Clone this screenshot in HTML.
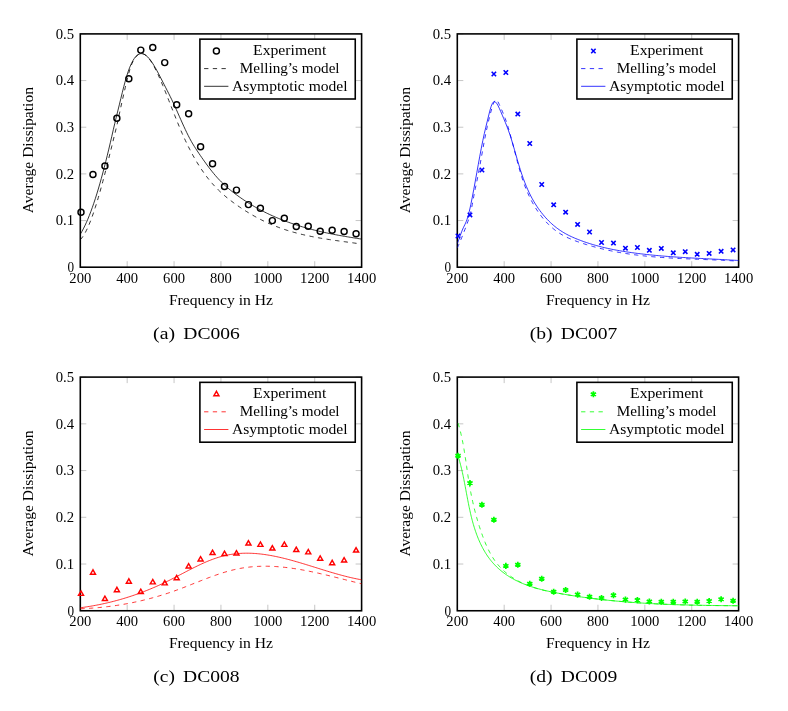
<!DOCTYPE html>
<html><head><meta charset="utf-8"><title>Average Dissipation</title>
<style>html,body{margin:0;padding:0;background:#fff}svg{display:block;will-change:transform}text{font-family:"Liberation Serif",serif;fill:#000}</style></head><body>
<svg width="788" height="711" viewBox="0 0 788 711">
<rect width="788" height="711" fill="#fff"/>
<defs>
<clipPath id="cpa"><rect x="80.30" y="33.90" width="281.30" height="233.30"/></clipPath>
<clipPath id="cpb"><rect x="457.30" y="33.90" width="281.30" height="233.30"/></clipPath>
<clipPath id="cpc"><rect x="80.30" y="377.10" width="281.30" height="233.65"/></clipPath>
<clipPath id="cpd"><rect x="457.30" y="377.10" width="281.30" height="233.65"/></clipPath>
</defs>
<g id="plot-a">
<path d="M80.30 267.20V261.20M80.30 33.90V39.90M127.18 267.20V261.20M127.18 33.90V39.90M174.07 267.20V261.20M174.07 33.90V39.90M220.95 267.20V261.20M220.95 33.90V39.90M267.83 267.20V261.20M267.83 33.90V39.90M314.72 267.20V261.20M314.72 33.90V39.90M361.60 267.20V261.20M361.60 33.90V39.90M80.30 267.20H86.30M361.60 267.20H355.60M80.30 220.54H86.30M361.60 220.54H355.60M80.30 173.88H86.30M361.60 173.88H355.60M80.30 127.22H86.30M361.60 127.22H355.60M80.30 80.56H86.30M361.60 80.56H355.60M80.30 33.90H86.30M361.60 33.90H355.60" stroke="#808080" stroke-width="0.45" fill="none"/>
<rect x="80.30" y="33.90" width="281.30" height="233.30" fill="none" stroke="#000" stroke-width="1.58"/>
<g clip-path="url(#cpa)" fill="none" stroke="#000000" stroke-width="0.80">
<path d="M80.30 239.67 C80.55 239.39 81.30 238.60 81.80 237.97 C82.30 237.34 82.80 236.64 83.30 235.89 C83.80 235.13 84.30 234.31 84.80 233.43 C85.30 232.56 85.80 231.62 86.30 230.63 C86.80 229.64 87.30 228.59 87.80 227.49 C88.30 226.39 88.80 225.23 89.30 224.03 C89.80 222.83 90.30 221.57 90.80 220.27 C91.30 218.97 91.80 217.62 92.30 216.23 C92.80 214.84 93.30 213.40 93.80 211.93 C94.30 210.45 94.80 208.93 95.30 207.38 C95.80 205.82 96.30 204.23 96.80 202.60 C97.30 200.97 97.80 199.31 98.30 197.61 C98.80 195.92 99.30 194.19 99.80 192.43 C100.30 190.67 100.80 188.88 101.30 187.07 C101.80 185.26 102.30 183.42 102.80 181.55 C103.30 179.69 103.80 177.80 104.30 175.90 C104.80 173.99 105.30 172.06 105.80 170.12 C106.30 168.18 106.80 166.21 107.30 164.24 C107.80 162.26 108.30 160.27 108.80 158.27 C109.30 156.26 109.80 154.25 110.30 152.23 C110.80 150.20 111.30 148.17 111.80 146.13 C112.30 144.10 112.80 142.05 113.30 140.01 C113.80 137.97 114.30 135.94 114.80 133.90 C115.30 131.86 115.80 129.88 116.30 127.79 C116.80 125.69 117.30 123.57 117.80 121.30 C118.30 119.04 118.80 116.54 119.30 114.19 C119.80 111.85 120.30 109.50 120.80 107.21 C121.30 104.92 121.80 102.68 122.30 100.46 C122.80 98.24 123.30 96.06 123.80 93.88 C124.30 91.71 124.80 89.56 125.30 87.42 C125.80 85.29 126.30 83.14 126.80 81.08 C127.30 79.03 127.80 76.98 128.30 75.08 C128.80 73.19 129.30 71.36 129.80 69.74 C130.30 68.11 130.80 66.64 131.30 65.32 C131.80 64.01 132.30 62.89 132.80 61.85 C133.30 60.81 133.80 59.90 134.30 59.08 C134.80 58.25 135.30 57.54 135.80 56.91 C136.30 56.28 136.80 55.76 137.30 55.31 C137.80 54.87 138.30 54.52 138.80 54.25 C139.30 53.98 139.80 53.80 140.30 53.69 C140.80 53.58 141.30 53.55 141.80 53.59 C142.30 53.62 142.80 53.74 143.30 53.91 C143.80 54.09 144.30 54.34 144.80 54.64 C145.30 54.95 145.80 55.32 146.30 55.75 C146.80 56.18 147.30 56.67 147.80 57.21 C148.30 57.75 148.80 58.35 149.30 58.99 C149.80 59.64 150.30 60.34 150.80 61.08 C151.30 61.82 151.80 62.61 152.30 63.44 C152.80 64.27 153.30 65.14 153.80 66.05 C154.30 66.96 154.80 67.91 155.30 68.89 C155.80 69.86 156.30 70.88 156.80 71.92 C157.30 72.96 157.80 74.03 158.30 75.12 C158.80 76.22 159.30 77.34 159.80 78.48 C160.30 79.61 160.80 80.78 161.30 81.95 C161.80 83.13 162.30 84.32 162.80 85.52 C163.30 86.72 163.80 87.94 164.30 89.17 C164.80 90.39 165.30 91.63 165.80 92.88 C166.30 94.12 166.80 95.37 167.30 96.63 C167.80 97.89 168.30 99.15 168.80 100.42 C169.30 101.68 169.80 102.96 170.30 104.23 C170.80 105.50 171.30 106.77 171.80 108.04 C172.30 109.31 172.80 110.58 173.30 111.84 C173.80 113.11 174.30 114.37 174.80 115.62 C175.30 116.88 175.80 118.13 176.30 119.37 C176.80 120.61 177.30 121.84 177.80 123.06 C178.30 124.28 178.80 125.50 179.30 126.69 C179.80 127.89 180.30 129.08 180.80 130.24 C181.30 131.41 181.80 132.57 182.30 133.70 C182.80 134.84 183.30 135.96 183.80 137.06 C184.30 138.16 184.80 139.24 185.30 140.31 C185.80 141.38 186.30 142.43 186.80 143.46 C187.30 144.50 187.80 145.51 188.30 146.52 C188.80 147.52 189.30 148.50 189.80 149.47 C190.30 150.44 190.80 151.39 191.30 152.33 C191.80 153.27 192.30 154.19 192.80 155.10 C193.30 156.01 193.80 156.90 194.30 157.78 C194.80 158.65 195.30 159.52 195.80 160.36 C196.30 161.21 196.80 162.05 197.30 162.86 C197.80 163.68 198.30 164.49 198.80 165.28 C199.30 166.07 199.80 166.85 200.30 167.61 C200.80 168.38 201.30 169.13 201.80 169.87 C202.30 170.60 202.80 171.33 203.30 172.04 C203.80 172.75 204.30 173.45 204.80 174.14 C205.30 174.82 205.80 175.50 206.30 176.16 C206.80 176.82 207.30 177.47 207.80 178.11 C208.30 178.75 208.80 179.37 209.30 179.99 C209.80 180.61 210.30 181.21 210.80 181.80 C211.30 182.39 211.80 182.97 212.30 183.55 C212.80 184.12 213.30 184.68 213.80 185.23 C214.30 185.78 214.80 186.31 215.30 186.84 C215.80 187.37 216.30 187.89 216.80 188.40 C217.30 188.91 217.80 189.41 218.30 189.91 C218.80 190.40 219.30 190.88 219.80 191.35 C220.30 191.83 220.80 192.30 221.30 192.75 C221.80 193.21 222.30 193.66 222.80 194.11 C223.30 194.55 223.80 194.99 224.30 195.42 C224.80 195.85 225.30 196.27 225.80 196.69 C226.30 197.10 226.80 197.52 227.30 197.92 C227.80 198.33 228.30 198.72 228.80 199.12 C229.30 199.51 229.80 199.90 230.30 200.29 C230.80 200.67 231.30 201.05 231.80 201.43 C232.30 201.80 232.80 202.18 233.30 202.54 C233.80 202.91 234.30 203.28 234.80 203.64 C235.30 204.00 235.80 204.36 236.30 204.71 C236.80 205.07 237.30 205.42 237.80 205.77 C238.30 206.12 238.80 206.46 239.30 206.80 C239.80 207.15 240.30 207.49 240.80 207.82 C241.30 208.16 241.80 208.49 242.30 208.82 C242.80 209.15 243.30 209.47 243.80 209.80 C244.30 210.12 244.80 210.44 245.30 210.76 C245.80 211.07 246.30 211.39 246.80 211.70 C247.30 212.01 247.80 212.31 248.30 212.62 C248.80 212.92 249.30 213.22 249.80 213.52 C250.30 213.82 250.80 214.11 251.30 214.40 C251.80 214.70 252.30 214.98 252.80 215.27 C253.30 215.56 253.80 215.84 254.30 216.12 C254.80 216.40 255.30 216.67 255.80 216.95 C256.30 217.22 256.80 217.49 257.30 217.76 C257.80 218.02 258.30 218.29 258.80 218.55 C259.30 218.81 259.80 219.07 260.30 219.32 C260.80 219.58 261.30 219.83 261.80 220.08 C262.30 220.33 262.80 220.58 263.30 220.82 C263.80 221.06 264.30 221.31 264.80 221.54 C265.30 221.78 265.80 222.02 266.30 222.25 C266.80 222.48 267.30 222.71 267.80 222.93 C268.30 223.16 268.80 223.38 269.30 223.60 C269.80 223.82 270.30 224.04 270.80 224.26 C271.30 224.47 271.80 224.68 272.30 224.89 C272.80 225.10 273.30 225.31 273.80 225.51 C274.30 225.71 274.80 225.91 275.30 226.11 C275.80 226.31 276.30 226.50 276.80 226.70 C277.30 226.89 277.80 227.08 278.30 227.26 C278.80 227.45 279.30 227.64 279.80 227.82 C280.30 228.00 280.80 228.18 281.30 228.36 C281.80 228.53 282.30 228.71 282.80 228.88 C283.30 229.05 283.80 229.22 284.30 229.39 C284.80 229.56 285.30 229.72 285.80 229.88 C286.30 230.05 286.80 230.21 287.30 230.37 C287.80 230.52 288.30 230.68 288.80 230.83 C289.30 230.99 289.80 231.14 290.30 231.29 C290.80 231.44 291.30 231.58 291.80 231.73 C292.30 231.87 292.80 232.02 293.30 232.16 C293.80 232.30 294.30 232.44 294.80 232.57 C295.30 232.71 295.80 232.84 296.30 232.98 C296.80 233.11 297.30 233.24 297.80 233.37 C298.30 233.50 298.80 233.63 299.30 233.75 C299.80 233.88 300.30 234.00 300.80 234.12 C301.30 234.25 301.80 234.37 302.30 234.48 C302.80 234.60 303.30 234.72 303.80 234.83 C304.30 234.95 304.80 235.06 305.30 235.18 C305.80 235.29 306.30 235.40 306.80 235.51 C307.30 235.61 307.80 235.72 308.30 235.83 C308.80 235.93 309.30 236.04 309.80 236.14 C310.30 236.24 310.80 236.35 311.30 236.45 C311.80 236.55 312.30 236.64 312.80 236.74 C313.30 236.84 313.80 236.94 314.30 237.03 C314.80 237.13 315.30 237.22 315.80 237.31 C316.30 237.40 316.80 237.50 317.30 237.59 C317.80 237.68 318.30 237.76 318.80 237.85 C319.30 237.94 319.80 238.03 320.30 238.11 C320.80 238.20 321.30 238.28 321.80 238.37 C322.30 238.45 322.80 238.54 323.30 238.62 C323.80 238.70 324.30 238.78 324.80 238.86 C325.30 238.94 325.80 239.02 326.30 239.10 C326.80 239.18 327.30 239.26 327.80 239.33 C328.30 239.41 328.80 239.49 329.30 239.56 C329.80 239.64 330.30 239.71 330.80 239.79 C331.30 239.86 331.80 239.93 332.30 240.01 C332.80 240.08 333.30 240.15 333.80 240.23 C334.30 240.30 334.80 240.37 335.30 240.44 C335.80 240.51 336.30 240.58 336.80 240.65 C337.30 240.72 337.80 240.79 338.30 240.86 C338.80 240.93 339.30 241.00 339.80 241.07 C340.30 241.14 340.80 241.21 341.30 241.28 C341.80 241.34 342.30 241.41 342.80 241.48 C343.30 241.55 343.80 241.62 344.30 241.68 C344.80 241.75 345.30 241.82 345.80 241.89 C346.30 241.96 346.80 242.02 347.30 242.09 C347.80 242.16 348.30 242.23 348.80 242.29 C349.30 242.36 349.80 242.43 350.30 242.50 C350.80 242.56 351.30 242.63 351.80 242.70 C352.30 242.77 352.80 242.84 353.30 242.90 C353.80 242.97 354.30 243.04 354.80 243.11 C355.30 243.18 355.80 243.25 356.30 243.32 C356.80 243.39 357.30 243.46 357.80 243.53 C358.30 243.60 358.80 243.67 359.30 243.74 C359.80 243.81 360.42 243.90 360.80 243.95 C361.18 244.01 361.47 244.05 361.60 244.07" stroke-dasharray="4.3 4.4"/>
<path d="M80.30 234.17 C80.55 233.75 81.30 232.53 81.80 231.65 C82.30 230.77 82.80 229.85 83.30 228.89 C83.80 227.93 84.30 226.93 84.80 225.89 C85.30 224.86 85.80 223.78 86.30 222.67 C86.80 221.56 87.30 220.41 87.80 219.23 C88.30 218.04 88.80 216.82 89.30 215.55 C89.80 214.29 90.30 213.00 90.80 211.66 C91.30 210.33 91.80 208.96 92.30 207.56 C92.80 206.15 93.30 204.71 93.80 203.23 C94.30 201.76 94.80 200.24 95.30 198.70 C95.80 197.15 96.30 195.57 96.80 193.95 C97.30 192.34 97.80 190.68 98.30 189.00 C98.80 187.32 99.30 185.60 99.80 183.85 C100.30 182.10 100.80 180.32 101.30 178.51 C101.80 176.69 102.30 174.85 102.80 172.98 C103.30 171.10 103.80 169.20 104.30 167.27 C104.80 165.34 105.30 163.38 105.80 161.39 C106.30 159.40 106.80 157.39 107.30 155.34 C107.80 153.30 108.30 151.24 108.80 149.14 C109.30 147.05 109.80 144.93 110.30 142.79 C110.80 140.65 111.30 138.47 111.80 136.30 C112.30 134.12 112.80 131.90 113.30 129.74 C113.80 127.57 114.30 125.42 114.80 123.30 C115.30 121.18 115.80 119.10 116.30 117.04 C116.80 114.98 117.30 112.97 117.80 110.94 C118.30 108.90 118.80 106.89 119.30 104.85 C119.80 102.80 120.30 100.73 120.80 98.67 C121.30 96.62 121.80 94.55 122.30 92.53 C122.80 90.51 123.30 88.50 123.80 86.56 C124.30 84.63 124.80 82.72 125.30 80.92 C125.80 79.12 126.30 77.38 126.80 75.75 C127.30 74.13 127.80 72.60 128.30 71.17 C128.80 69.74 129.30 68.41 129.80 67.17 C130.30 65.93 130.80 64.78 131.30 63.72 C131.80 62.67 132.30 61.70 132.80 60.82 C133.30 59.94 133.80 59.15 134.30 58.44 C134.80 57.73 135.30 57.10 135.80 56.55 C136.30 56.01 136.80 55.54 137.30 55.15 C137.80 54.76 138.30 54.45 138.80 54.21 C139.30 53.97 139.80 53.80 140.30 53.70 C140.80 53.60 141.30 53.58 141.80 53.62 C142.30 53.66 142.80 53.76 143.30 53.93 C143.80 54.10 144.30 54.34 144.80 54.63 C145.30 54.92 145.80 55.27 146.30 55.67 C146.80 56.08 147.30 56.54 147.80 57.05 C148.30 57.56 148.80 58.12 149.30 58.72 C149.80 59.32 150.30 59.97 150.80 60.65 C151.30 61.34 151.80 62.06 152.30 62.82 C152.80 63.58 153.30 64.37 153.80 65.19 C154.30 66.01 154.80 66.86 155.30 67.73 C155.80 68.61 156.30 69.51 156.80 70.42 C157.30 71.33 157.80 72.27 158.30 73.21 C158.80 74.16 159.30 75.12 159.80 76.09 C160.30 77.06 160.80 78.04 161.30 79.01 C161.80 79.99 162.30 80.98 162.80 81.96 C163.30 82.94 163.80 83.92 164.30 84.89 C164.80 85.87 165.30 86.84 165.80 87.81 C166.30 88.79 166.80 89.76 167.30 90.74 C167.80 91.72 168.30 92.70 168.80 93.69 C169.30 94.68 169.80 95.68 170.30 96.69 C170.80 97.70 171.30 98.72 171.80 99.76 C172.30 100.79 172.80 101.84 173.30 102.91 C173.80 103.98 174.30 105.06 174.80 106.16 C175.30 107.26 175.80 108.37 176.30 109.48 C176.80 110.60 177.30 111.73 177.80 112.86 C178.30 113.98 178.80 115.12 179.30 116.25 C179.80 117.38 180.30 118.52 180.80 119.64 C181.30 120.77 181.80 121.89 182.30 123.00 C182.80 124.11 183.30 125.22 183.80 126.31 C184.30 127.40 184.80 128.48 185.30 129.54 C185.80 130.60 186.30 131.65 186.80 132.68 C187.30 133.71 187.80 134.72 188.30 135.71 C188.80 136.70 189.30 137.67 189.80 138.61 C190.30 139.55 190.80 140.47 191.30 141.36 C191.80 142.25 192.30 143.11 192.80 143.95 C193.30 144.79 193.80 145.61 194.30 146.40 C194.80 147.20 195.30 147.97 195.80 148.74 C196.30 149.51 196.80 150.26 197.30 151.01 C197.80 151.75 198.30 152.49 198.80 153.23 C199.30 153.97 199.80 154.70 200.30 155.43 C200.80 156.16 201.30 156.89 201.80 157.61 C202.30 158.33 202.80 159.04 203.30 159.75 C203.80 160.46 204.30 161.17 204.80 161.87 C205.30 162.57 205.80 163.26 206.30 163.94 C206.80 164.63 207.30 165.31 207.80 165.98 C208.30 166.65 208.80 167.32 209.30 167.97 C209.80 168.63 210.30 169.28 210.80 169.92 C211.30 170.56 211.80 171.19 212.30 171.81 C212.80 172.43 213.30 173.05 213.80 173.65 C214.30 174.25 214.80 174.85 215.30 175.43 C215.80 176.01 216.30 176.59 216.80 177.15 C217.30 177.71 217.80 178.26 218.30 178.80 C218.80 179.34 219.30 179.87 219.80 180.39 C220.30 180.91 220.80 181.42 221.30 181.92 C221.80 182.42 222.30 182.91 222.80 183.40 C223.30 183.88 223.80 184.35 224.30 184.82 C224.80 185.28 225.30 185.74 225.80 186.19 C226.30 186.64 226.80 187.08 227.30 187.51 C227.80 187.95 228.30 188.37 228.80 188.80 C229.30 189.22 229.80 189.63 230.30 190.04 C230.80 190.45 231.30 190.85 231.80 191.25 C232.30 191.64 232.80 192.03 233.30 192.42 C233.80 192.81 234.30 193.19 234.80 193.57 C235.30 193.95 235.80 194.32 236.30 194.69 C236.80 195.06 237.30 195.42 237.80 195.79 C238.30 196.15 238.80 196.51 239.30 196.86 C239.80 197.22 240.30 197.57 240.80 197.92 C241.30 198.27 241.80 198.61 242.30 198.95 C242.80 199.29 243.30 199.63 243.80 199.96 C244.30 200.30 244.80 200.63 245.30 200.96 C245.80 201.28 246.30 201.61 246.80 201.93 C247.30 202.25 247.80 202.57 248.30 202.88 C248.80 203.20 249.30 203.51 249.80 203.81 C250.30 204.12 250.80 204.43 251.30 204.73 C251.80 205.03 252.30 205.33 252.80 205.62 C253.30 205.92 253.80 206.21 254.30 206.50 C254.80 206.79 255.30 207.08 255.80 207.36 C256.30 207.64 256.80 207.92 257.30 208.20 C257.80 208.48 258.30 208.75 258.80 209.02 C259.30 209.30 259.80 209.57 260.30 209.83 C260.80 210.10 261.30 210.36 261.80 210.62 C262.30 210.88 262.80 211.14 263.30 211.40 C263.80 211.65 264.30 211.90 264.80 212.16 C265.30 212.41 265.80 212.65 266.30 212.90 C266.80 213.14 267.30 213.39 267.80 213.63 C268.30 213.87 268.80 214.10 269.30 214.34 C269.80 214.57 270.30 214.81 270.80 215.04 C271.30 215.27 271.80 215.50 272.30 215.72 C272.80 215.95 273.30 216.17 273.80 216.39 C274.30 216.61 274.80 216.83 275.30 217.05 C275.80 217.27 276.30 217.48 276.80 217.69 C277.30 217.91 277.80 218.12 278.30 218.32 C278.80 218.53 279.30 218.74 279.80 218.94 C280.30 219.15 280.80 219.35 281.30 219.55 C281.80 219.75 282.30 219.95 282.80 220.14 C283.30 220.34 283.80 220.53 284.30 220.72 C284.80 220.91 285.30 221.10 285.80 221.29 C286.30 221.48 286.80 221.66 287.30 221.85 C287.80 222.03 288.30 222.21 288.80 222.39 C289.30 222.57 289.80 222.75 290.30 222.92 C290.80 223.10 291.30 223.27 291.80 223.45 C292.30 223.62 292.80 223.79 293.30 223.96 C293.80 224.13 294.30 224.29 294.80 224.46 C295.30 224.62 295.80 224.79 296.30 224.95 C296.80 225.11 297.30 225.27 297.80 225.43 C298.30 225.59 298.80 225.74 299.30 225.90 C299.80 226.05 300.30 226.21 300.80 226.36 C301.30 226.51 301.80 226.66 302.30 226.81 C302.80 226.96 303.30 227.10 303.80 227.25 C304.30 227.39 304.80 227.54 305.30 227.68 C305.80 227.82 306.30 227.96 306.80 228.10 C307.30 228.24 307.80 228.38 308.30 228.51 C308.80 228.65 309.30 228.78 309.80 228.92 C310.30 229.05 310.80 229.18 311.30 229.31 C311.80 229.44 312.30 229.57 312.80 229.70 C313.30 229.83 313.80 229.95 314.30 230.08 C314.80 230.20 315.30 230.33 315.80 230.45 C316.30 230.57 316.80 230.69 317.30 230.81 C317.80 230.93 318.30 231.05 318.80 231.17 C319.30 231.29 319.80 231.40 320.30 231.52 C320.80 231.63 321.30 231.75 321.80 231.86 C322.30 231.97 322.80 232.09 323.30 232.20 C323.80 232.31 324.30 232.42 324.80 232.52 C325.30 232.63 325.80 232.74 326.30 232.85 C326.80 232.95 327.30 233.06 327.80 233.16 C328.30 233.27 328.80 233.37 329.30 233.47 C329.80 233.58 330.30 233.68 330.80 233.78 C331.30 233.88 331.80 233.98 332.30 234.08 C332.80 234.18 333.30 234.27 333.80 234.37 C334.30 234.47 334.80 234.56 335.30 234.66 C335.80 234.75 336.30 234.85 336.80 234.94 C337.30 235.04 337.80 235.13 338.30 235.22 C338.80 235.31 339.30 235.40 339.80 235.49 C340.30 235.59 340.80 235.68 341.30 235.76 C341.80 235.85 342.30 235.94 342.80 236.03 C343.30 236.12 343.80 236.21 344.30 236.29 C344.80 236.38 345.30 236.46 345.80 236.55 C346.30 236.64 346.80 236.72 347.30 236.81 C347.80 236.89 348.30 236.97 348.80 237.06 C349.30 237.14 349.80 237.22 350.30 237.31 C350.80 237.39 351.30 237.47 351.80 237.55 C352.30 237.63 352.80 237.71 353.30 237.79 C353.80 237.87 354.30 237.96 354.80 238.04 C355.30 238.11 355.80 238.19 356.30 238.27 C356.80 238.35 357.30 238.43 357.80 238.51 C358.30 238.59 358.80 238.67 359.30 238.74 C359.80 238.82 360.42 238.92 360.80 238.98 C361.18 239.04 361.47 239.08 361.60 239.10"/>
</g>
<circle cx="81.00" cy="212.20" r="3.0" fill="none" stroke="#000000" stroke-width="1.45"/>
<circle cx="92.96" cy="174.40" r="3.0" fill="none" stroke="#000000" stroke-width="1.45"/>
<circle cx="104.92" cy="166.00" r="3.0" fill="none" stroke="#000000" stroke-width="1.45"/>
<circle cx="116.88" cy="118.30" r="3.0" fill="none" stroke="#000000" stroke-width="1.45"/>
<circle cx="128.84" cy="78.80" r="3.0" fill="none" stroke="#000000" stroke-width="1.45"/>
<circle cx="140.80" cy="50.10" r="3.0" fill="none" stroke="#000000" stroke-width="1.45"/>
<circle cx="152.76" cy="47.40" r="3.0" fill="none" stroke="#000000" stroke-width="1.45"/>
<circle cx="164.72" cy="62.60" r="3.0" fill="none" stroke="#000000" stroke-width="1.45"/>
<circle cx="176.68" cy="104.70" r="3.0" fill="none" stroke="#000000" stroke-width="1.45"/>
<circle cx="188.64" cy="113.70" r="3.0" fill="none" stroke="#000000" stroke-width="1.45"/>
<circle cx="200.60" cy="146.80" r="3.0" fill="none" stroke="#000000" stroke-width="1.45"/>
<circle cx="212.56" cy="163.70" r="3.0" fill="none" stroke="#000000" stroke-width="1.45"/>
<circle cx="224.52" cy="186.50" r="3.0" fill="none" stroke="#000000" stroke-width="1.45"/>
<circle cx="236.48" cy="190.10" r="3.0" fill="none" stroke="#000000" stroke-width="1.45"/>
<circle cx="248.44" cy="204.60" r="3.0" fill="none" stroke="#000000" stroke-width="1.45"/>
<circle cx="260.40" cy="208.30" r="3.0" fill="none" stroke="#000000" stroke-width="1.45"/>
<circle cx="272.36" cy="220.60" r="3.0" fill="none" stroke="#000000" stroke-width="1.45"/>
<circle cx="284.32" cy="218.30" r="3.0" fill="none" stroke="#000000" stroke-width="1.45"/>
<circle cx="296.28" cy="226.50" r="3.0" fill="none" stroke="#000000" stroke-width="1.45"/>
<circle cx="308.24" cy="226.30" r="3.0" fill="none" stroke="#000000" stroke-width="1.45"/>
<circle cx="320.20" cy="231.30" r="3.0" fill="none" stroke="#000000" stroke-width="1.45"/>
<circle cx="332.16" cy="230.30" r="3.0" fill="none" stroke="#000000" stroke-width="1.45"/>
<circle cx="344.12" cy="231.50" r="3.0" fill="none" stroke="#000000" stroke-width="1.45"/>
<circle cx="356.08" cy="233.80" r="3.0" fill="none" stroke="#000000" stroke-width="1.45"/>
<text x="80.30" y="282.70" font-size="14.40" text-anchor="middle" textLength="21.90" lengthAdjust="spacingAndGlyphs">200</text>
<text x="127.18" y="282.70" font-size="14.40" text-anchor="middle" textLength="21.90" lengthAdjust="spacingAndGlyphs">400</text>
<text x="174.07" y="282.70" font-size="14.40" text-anchor="middle" textLength="21.90" lengthAdjust="spacingAndGlyphs">600</text>
<text x="220.95" y="282.70" font-size="14.40" text-anchor="middle" textLength="21.90" lengthAdjust="spacingAndGlyphs">800</text>
<text x="267.83" y="282.70" font-size="14.40" text-anchor="middle" textLength="29.20" lengthAdjust="spacingAndGlyphs">1000</text>
<text x="314.72" y="282.70" font-size="14.40" text-anchor="middle" textLength="29.20" lengthAdjust="spacingAndGlyphs">1200</text>
<text x="361.60" y="282.70" font-size="14.40" text-anchor="middle" textLength="29.20" lengthAdjust="spacingAndGlyphs">1400</text>
<text x="74.10" y="272.00" font-size="14.40" text-anchor="end" textLength="6.60" lengthAdjust="spacingAndGlyphs">0</text>
<text x="74.10" y="225.34" font-size="14.40" text-anchor="end" textLength="18.40" lengthAdjust="spacingAndGlyphs">0.1</text>
<text x="74.10" y="178.68" font-size="14.40" text-anchor="end" textLength="18.40" lengthAdjust="spacingAndGlyphs">0.2</text>
<text x="74.10" y="132.02" font-size="14.40" text-anchor="end" textLength="18.40" lengthAdjust="spacingAndGlyphs">0.3</text>
<text x="74.10" y="85.36" font-size="14.40" text-anchor="end" textLength="18.40" lengthAdjust="spacingAndGlyphs">0.4</text>
<text x="74.10" y="38.70" font-size="14.40" text-anchor="end" textLength="18.40" lengthAdjust="spacingAndGlyphs">0.5</text>
<text x="220.95" y="304.90" font-size="13.90" text-anchor="middle" textLength="104.00" lengthAdjust="spacingAndGlyphs">Frequency in Hz</text>
<text transform="translate(33.10 150.15) rotate(-90)" font-size="13.90" text-anchor="middle" textLength="126.2" lengthAdjust="spacingAndGlyphs">Average Dissipation</text>
<text x="153.10" y="338.80" font-size="17.40" text-anchor="start" textLength="22.00" lengthAdjust="spacingAndGlyphs">(a)</text>
<text x="183.30" y="338.80" font-size="17.40" text-anchor="start" textLength="56.60" lengthAdjust="spacingAndGlyphs">DC006</text>
<rect x="199.90" y="39.15" width="155.35" height="59.85" fill="#fff" stroke="#000" stroke-width="1.58"/>
<circle cx="216.40" cy="51.00" r="3.0" fill="none" stroke="#000000" stroke-width="1.45"/>
<path d="M204.10 68.60H228.40" stroke="#000000" stroke-width="0.80" stroke-dasharray="4.3 4.4" fill="none"/>
<path d="M204.10 86.30H228.40" stroke="#000000" stroke-width="0.80" fill="none"/>
<text x="289.70" y="55.10" font-size="13.90" text-anchor="middle" textLength="73.30" lengthAdjust="spacingAndGlyphs">Experiment</text>
<text x="289.70" y="73.20" font-size="13.90" text-anchor="middle" textLength="99.80" lengthAdjust="spacingAndGlyphs">Melling’s model</text>
<text x="289.80" y="90.70" font-size="13.90" text-anchor="middle" textLength="115.60" lengthAdjust="spacingAndGlyphs">Asymptotic model</text>
</g>
<g id="plot-b">
<path d="M457.30 267.20V261.20M457.30 33.90V39.90M504.18 267.20V261.20M504.18 33.90V39.90M551.07 267.20V261.20M551.07 33.90V39.90M597.95 267.20V261.20M597.95 33.90V39.90M644.83 267.20V261.20M644.83 33.90V39.90M691.72 267.20V261.20M691.72 33.90V39.90M738.60 267.20V261.20M738.60 33.90V39.90M457.30 267.20H463.30M738.60 267.20H732.60M457.30 220.54H463.30M738.60 220.54H732.60M457.30 173.88H463.30M738.60 173.88H732.60M457.30 127.22H463.30M738.60 127.22H732.60M457.30 80.56H463.30M738.60 80.56H732.60M457.30 33.90H463.30M738.60 33.90H732.60" stroke="#808080" stroke-width="0.45" fill="none"/>
<rect x="457.30" y="33.90" width="281.30" height="233.30" fill="none" stroke="#000" stroke-width="1.58"/>
<g clip-path="url(#cpb)" fill="none" stroke="#0000ff" stroke-width="0.80">
<path d="M457.30 247.85 C457.55 247.29 458.30 245.63 458.80 244.49 C459.30 243.35 459.80 242.18 460.30 241.00 C460.80 239.81 461.30 238.60 461.80 237.38 C462.30 236.15 462.80 234.90 463.30 233.64 C463.80 232.37 464.30 231.08 464.80 229.78 C465.30 228.48 465.80 227.16 466.30 225.82 C466.80 224.48 467.30 223.17 467.80 221.75 C468.30 220.32 468.80 218.94 469.30 217.26 C469.80 215.59 470.30 213.84 470.80 211.69 C471.30 209.54 471.80 206.96 472.30 204.37 C472.80 201.78 473.30 198.78 473.80 196.16 C474.30 193.54 474.80 191.10 475.30 188.66 C475.80 186.21 476.30 183.92 476.80 181.47 C477.30 179.02 477.80 176.55 478.30 173.97 C478.80 171.38 479.30 168.69 479.80 165.98 C480.30 163.26 480.80 160.46 481.30 157.69 C481.80 154.91 482.30 152.09 482.80 149.35 C483.30 146.60 483.80 143.86 484.30 141.22 C484.80 138.59 485.30 136.02 485.80 133.56 C486.30 131.11 486.80 128.74 487.30 126.47 C487.80 124.20 488.30 122.03 488.80 119.94 C489.30 117.86 489.80 115.86 490.30 113.96 C490.80 112.06 491.30 110.20 491.80 108.52 C492.30 106.85 492.80 105.20 493.30 103.91 C493.80 102.62 494.30 101.46 494.80 100.78 C495.30 100.10 495.80 99.70 496.30 99.82 C496.80 99.93 497.30 100.68 497.80 101.47 C498.30 102.26 498.80 103.50 499.30 104.56 C499.80 105.62 500.30 106.72 500.80 107.83 C501.30 108.93 501.80 110.05 502.30 111.22 C502.80 112.38 503.30 113.57 503.80 114.82 C504.30 116.07 504.80 117.36 505.30 118.72 C505.80 120.09 506.30 121.51 506.80 123.01 C507.30 124.52 507.80 126.11 508.30 127.76 C508.80 129.42 509.30 131.16 509.80 132.93 C510.30 134.71 510.80 136.55 511.30 138.41 C511.80 140.27 512.30 142.19 512.80 144.10 C513.30 146.02 513.80 147.96 514.30 149.89 C514.80 151.82 515.30 153.77 515.80 155.68 C516.30 157.60 516.80 159.50 517.30 161.37 C517.80 163.23 518.30 165.07 518.80 166.86 C519.30 168.65 519.80 170.41 520.30 172.11 C520.80 173.81 521.30 175.47 521.80 177.06 C522.30 178.65 522.80 180.19 523.30 181.65 C523.80 183.11 524.30 184.50 524.80 185.83 C525.30 187.16 525.80 188.41 526.30 189.62 C526.80 190.84 527.30 191.99 527.80 193.12 C528.30 194.24 528.80 195.33 529.30 196.38 C529.80 197.43 530.30 198.45 530.80 199.44 C531.30 200.42 531.80 201.37 532.30 202.30 C532.80 203.22 533.30 204.12 533.80 204.98 C534.30 205.85 534.80 206.69 535.30 207.50 C535.80 208.32 536.30 209.10 536.80 209.87 C537.30 210.64 537.80 211.38 538.30 212.10 C538.80 212.82 539.30 213.52 539.80 214.20 C540.30 214.88 540.80 215.55 541.30 216.19 C541.80 216.84 542.30 217.47 542.80 218.08 C543.30 218.70 543.80 219.29 544.30 219.87 C544.80 220.45 545.30 221.02 545.80 221.57 C546.30 222.12 546.80 222.65 547.30 223.17 C547.80 223.69 548.30 224.19 548.80 224.68 C549.30 225.17 549.80 225.65 550.30 226.11 C550.80 226.57 551.30 227.02 551.80 227.46 C552.30 227.89 552.80 228.32 553.30 228.73 C553.80 229.14 554.30 229.54 554.80 229.92 C555.30 230.31 555.80 230.68 556.30 231.05 C556.80 231.41 557.30 231.77 557.80 232.11 C558.30 232.45 558.80 232.78 559.30 233.11 C559.80 233.43 560.30 233.74 560.80 234.05 C561.30 234.35 561.80 234.64 562.30 234.93 C562.80 235.22 563.30 235.49 563.80 235.76 C564.30 236.03 564.80 236.29 565.30 236.55 C565.80 236.80 566.30 237.05 566.80 237.29 C567.30 237.53 567.80 237.76 568.30 237.99 C568.80 238.22 569.30 238.44 569.80 238.65 C570.30 238.87 570.80 239.08 571.30 239.29 C571.80 239.49 572.30 239.69 572.80 239.89 C573.30 240.09 573.80 240.28 574.30 240.47 C574.80 240.66 575.30 240.84 575.80 241.02 C576.30 241.20 576.80 241.38 577.30 241.56 C577.80 241.74 578.30 241.91 578.80 242.08 C579.30 242.26 579.80 242.43 580.30 242.60 C580.80 242.77 581.30 242.93 581.80 243.10 C582.30 243.26 582.80 243.43 583.30 243.59 C583.80 243.75 584.30 243.91 584.80 244.07 C585.30 244.23 585.80 244.38 586.30 244.54 C586.80 244.69 587.30 244.84 587.80 244.99 C588.30 245.15 588.80 245.30 589.30 245.44 C589.80 245.59 590.30 245.74 590.80 245.88 C591.30 246.02 591.80 246.17 592.30 246.31 C592.80 246.45 593.30 246.59 593.80 246.73 C594.30 246.86 594.80 247.00 595.30 247.13 C595.80 247.27 596.30 247.40 596.80 247.53 C597.30 247.66 597.80 247.79 598.30 247.92 C598.80 248.05 599.30 248.18 599.80 248.30 C600.30 248.43 600.80 248.55 601.30 248.67 C601.80 248.79 602.30 248.91 602.80 249.03 C603.30 249.15 603.80 249.27 604.30 249.38 C604.80 249.50 605.30 249.61 605.80 249.73 C606.30 249.84 606.80 249.95 607.30 250.06 C607.80 250.17 608.30 250.28 608.80 250.39 C609.30 250.49 609.80 250.60 610.30 250.70 C610.80 250.81 611.30 250.91 611.80 251.01 C612.30 251.11 612.80 251.21 613.30 251.31 C613.80 251.41 614.30 251.51 614.80 251.61 C615.30 251.70 615.80 251.80 616.30 251.89 C616.80 251.98 617.30 252.08 617.80 252.17 C618.30 252.26 618.80 252.35 619.30 252.44 C619.80 252.53 620.30 252.61 620.80 252.70 C621.30 252.78 621.80 252.87 622.30 252.95 C622.80 253.04 623.30 253.12 623.80 253.20 C624.30 253.28 624.80 253.36 625.30 253.44 C625.80 253.52 626.30 253.60 626.80 253.67 C627.30 253.75 627.80 253.83 628.30 253.90 C628.80 253.97 629.30 254.05 629.80 254.12 C630.30 254.19 630.80 254.26 631.30 254.33 C631.80 254.40 632.30 254.47 632.80 254.54 C633.30 254.61 633.80 254.67 634.30 254.74 C634.80 254.81 635.30 254.87 635.80 254.93 C636.30 255.00 636.80 255.06 637.30 255.12 C637.80 255.18 638.30 255.24 638.80 255.30 C639.30 255.36 639.80 255.42 640.30 255.48 C640.80 255.54 641.30 255.60 641.80 255.65 C642.30 255.71 642.80 255.76 643.30 255.82 C643.80 255.87 644.30 255.92 644.80 255.98 C645.30 256.03 645.80 256.08 646.30 256.13 C646.80 256.18 647.30 256.23 647.80 256.28 C648.30 256.33 648.80 256.38 649.30 256.43 C649.80 256.47 650.30 256.52 650.80 256.57 C651.30 256.61 651.80 256.66 652.30 256.70 C652.80 256.75 653.30 256.79 653.80 256.83 C654.30 256.87 654.80 256.92 655.30 256.96 C655.80 257.00 656.30 257.04 656.80 257.08 C657.30 257.12 657.80 257.16 658.30 257.20 C658.80 257.24 659.30 257.28 659.80 257.31 C660.30 257.35 660.80 257.39 661.30 257.42 C661.80 257.46 662.30 257.49 662.80 257.53 C663.30 257.56 663.80 257.60 664.30 257.63 C664.80 257.67 665.30 257.70 665.80 257.73 C666.30 257.76 666.80 257.80 667.30 257.83 C667.80 257.86 668.30 257.89 668.80 257.92 C669.30 257.95 669.80 257.98 670.30 258.01 C670.80 258.04 671.30 258.07 671.80 258.10 C672.30 258.13 672.80 258.15 673.30 258.18 C673.80 258.21 674.30 258.24 674.80 258.26 C675.30 258.29 675.80 258.32 676.30 258.34 C676.80 258.37 677.30 258.39 677.80 258.42 C678.30 258.45 678.80 258.47 679.30 258.49 C679.80 258.52 680.30 258.54 680.80 258.57 C681.30 258.59 681.80 258.61 682.30 258.64 C682.80 258.66 683.30 258.68 683.80 258.71 C684.30 258.73 684.80 258.75 685.30 258.77 C685.80 258.80 686.30 258.82 686.80 258.84 C687.30 258.86 687.80 258.88 688.30 258.90 C688.80 258.92 689.30 258.95 689.80 258.97 C690.30 258.99 690.80 259.01 691.30 259.03 C691.80 259.05 692.30 259.07 692.80 259.09 C693.30 259.11 693.80 259.13 694.30 259.15 C694.80 259.17 695.30 259.19 695.80 259.21 C696.30 259.23 696.80 259.25 697.30 259.27 C697.80 259.29 698.30 259.30 698.80 259.32 C699.30 259.34 699.80 259.36 700.30 259.38 C700.80 259.40 701.30 259.42 701.80 259.44 C702.30 259.46 702.80 259.48 703.30 259.50 C703.80 259.52 704.30 259.53 704.80 259.55 C705.30 259.57 705.80 259.59 706.30 259.61 C706.80 259.63 707.30 259.65 707.80 259.67 C708.30 259.69 708.80 259.71 709.30 259.73 C709.80 259.75 710.30 259.77 710.80 259.79 C711.30 259.81 711.80 259.83 712.30 259.85 C712.80 259.87 713.30 259.89 713.80 259.91 C714.30 259.93 714.80 259.95 715.30 259.97 C715.80 259.99 716.30 260.01 716.80 260.03 C717.30 260.05 717.80 260.08 718.30 260.10 C718.80 260.12 719.30 260.14 719.80 260.16 C720.30 260.19 720.80 260.21 721.30 260.23 C721.80 260.25 722.30 260.28 722.80 260.30 C723.30 260.32 723.80 260.35 724.30 260.37 C724.80 260.40 725.30 260.42 725.80 260.44 C726.30 260.47 726.80 260.49 727.30 260.52 C727.80 260.55 728.30 260.57 728.80 260.60 C729.30 260.62 729.80 260.65 730.30 260.68 C730.80 260.70 731.30 260.73 731.80 260.76 C732.30 260.79 732.80 260.82 733.30 260.84 C733.80 260.87 734.30 260.90 734.80 260.93 C735.30 260.96 735.80 260.99 736.30 261.02 C736.80 261.05 737.42 261.09 737.80 261.12 C738.18 261.14 738.47 261.16 738.60 261.17" stroke-dasharray="4.3 4.4"/>
<path d="M457.30 243.51 C457.55 242.89 458.30 241.12 458.80 239.78 C459.30 238.44 459.80 236.88 460.30 235.47 C460.80 234.05 461.30 232.56 461.80 231.28 C462.30 230.00 462.80 228.90 463.30 227.80 C463.80 226.71 464.30 225.80 464.80 224.73 C465.30 223.65 465.80 222.64 466.30 221.35 C466.80 220.06 467.30 218.65 467.80 216.97 C468.30 215.30 468.80 213.37 469.30 211.31 C469.80 209.25 470.30 206.97 470.80 204.62 C471.30 202.26 471.80 199.73 472.30 197.17 C472.80 194.61 473.30 191.93 473.80 189.25 C474.30 186.56 474.80 183.80 475.30 181.05 C475.80 178.29 476.30 175.49 476.80 172.71 C477.30 169.93 477.80 167.13 478.30 164.37 C478.80 161.61 479.30 158.85 479.80 156.15 C480.30 153.46 480.80 150.79 481.30 148.20 C481.80 145.62 482.30 143.08 482.80 140.65 C483.30 138.22 483.80 135.87 484.30 133.63 C484.80 131.39 485.30 129.29 485.80 127.20 C486.30 125.11 486.80 123.12 487.30 121.08 C487.80 119.04 488.30 116.95 488.80 114.96 C489.30 112.97 489.80 110.86 490.30 109.13 C490.80 107.40 491.30 105.75 491.80 104.59 C492.30 103.43 492.80 102.63 493.30 102.16 C493.80 101.68 494.30 101.60 494.80 101.72 C495.30 101.83 495.80 102.28 496.30 102.86 C496.80 103.44 497.30 104.28 497.80 105.18 C498.30 106.09 498.80 107.18 499.30 108.27 C499.80 109.37 500.30 110.57 500.80 111.73 C501.30 112.88 501.80 114.05 502.30 115.21 C502.80 116.38 503.30 117.53 503.80 118.72 C504.30 119.90 504.80 121.09 505.30 122.32 C505.80 123.54 506.30 124.78 506.80 126.08 C507.30 127.37 507.80 128.69 508.30 130.07 C508.80 131.45 509.30 132.87 509.80 134.36 C510.30 135.86 510.80 137.42 511.30 139.02 C511.80 140.63 512.30 142.31 512.80 144.00 C513.30 145.69 513.80 147.44 514.30 149.18 C514.80 150.92 515.30 152.70 515.80 154.46 C516.30 156.21 516.80 157.98 517.30 159.71 C517.80 161.44 518.30 163.17 518.80 164.84 C519.30 166.50 519.80 168.14 520.30 169.71 C520.80 171.29 521.30 172.81 521.80 174.28 C522.30 175.75 522.80 177.17 523.30 178.55 C523.80 179.93 524.30 181.25 524.80 182.54 C525.30 183.82 525.80 185.06 526.30 186.26 C526.80 187.46 527.30 188.61 527.80 189.73 C528.30 190.85 528.80 191.92 529.30 192.96 C529.80 194.01 530.30 195.01 530.80 195.99 C531.30 196.96 531.80 197.90 532.30 198.81 C532.80 199.72 533.30 200.59 533.80 201.44 C534.30 202.30 534.80 203.12 535.30 203.92 C535.80 204.71 536.30 205.49 536.80 206.24 C537.30 206.99 537.80 207.71 538.30 208.42 C538.80 209.13 539.30 209.82 539.80 210.49 C540.30 211.17 540.80 211.82 541.30 212.46 C541.80 213.10 542.30 213.73 542.80 214.34 C543.30 214.95 543.80 215.55 544.30 216.13 C544.80 216.71 545.30 217.28 545.80 217.83 C546.30 218.39 546.80 218.92 547.30 219.45 C547.80 219.98 548.30 220.49 548.80 220.99 C549.30 221.49 549.80 221.98 550.30 222.45 C550.80 222.93 551.30 223.39 551.80 223.84 C552.30 224.29 552.80 224.73 553.30 225.16 C553.80 225.59 554.30 226.01 554.80 226.41 C555.30 226.82 555.80 227.22 556.30 227.60 C556.80 227.99 557.30 228.36 557.80 228.73 C558.30 229.09 558.80 229.45 559.30 229.79 C559.80 230.14 560.30 230.48 560.80 230.81 C561.30 231.14 561.80 231.45 562.30 231.77 C562.80 232.08 563.30 232.38 563.80 232.68 C564.30 232.97 564.80 233.26 565.30 233.54 C565.80 233.82 566.30 234.10 566.80 234.37 C567.30 234.63 567.80 234.89 568.30 235.15 C568.80 235.40 569.30 235.65 569.80 235.89 C570.30 236.14 570.80 236.37 571.30 236.60 C571.80 236.84 572.30 237.06 572.80 237.29 C573.30 237.51 573.80 237.73 574.30 237.94 C574.80 238.15 575.30 238.36 575.80 238.57 C576.30 238.77 576.80 238.98 577.30 239.18 C577.80 239.38 578.30 239.57 578.80 239.77 C579.30 239.96 579.80 240.15 580.30 240.34 C580.80 240.53 581.30 240.71 581.80 240.90 C582.30 241.08 582.80 241.26 583.30 241.44 C583.80 241.62 584.30 241.79 584.80 241.97 C585.30 242.14 585.80 242.31 586.30 242.48 C586.80 242.65 587.30 242.81 587.80 242.98 C588.30 243.14 588.80 243.30 589.30 243.46 C589.80 243.62 590.30 243.78 590.80 243.93 C591.30 244.09 591.80 244.24 592.30 244.39 C592.80 244.54 593.30 244.69 593.80 244.83 C594.30 244.98 594.80 245.12 595.30 245.26 C595.80 245.41 596.30 245.54 596.80 245.68 C597.30 245.82 597.80 245.96 598.30 246.09 C598.80 246.22 599.30 246.35 599.80 246.48 C600.30 246.61 600.80 246.74 601.30 246.87 C601.80 246.99 602.30 247.12 602.80 247.24 C603.30 247.36 603.80 247.48 604.30 247.60 C604.80 247.72 605.30 247.83 605.80 247.95 C606.30 248.06 606.80 248.18 607.30 248.29 C607.80 248.40 608.30 248.51 608.80 248.62 C609.30 248.73 609.80 248.83 610.30 248.94 C610.80 249.04 611.30 249.15 611.80 249.25 C612.30 249.35 612.80 249.45 613.30 249.55 C613.80 249.65 614.30 249.75 614.80 249.84 C615.30 249.94 615.80 250.04 616.30 250.13 C616.80 250.22 617.30 250.31 617.80 250.40 C618.30 250.50 618.80 250.58 619.30 250.67 C619.80 250.76 620.30 250.85 620.80 250.93 C621.30 251.02 621.80 251.10 622.30 251.19 C622.80 251.27 623.30 251.35 623.80 251.43 C624.30 251.51 624.80 251.59 625.30 251.67 C625.80 251.75 626.30 251.83 626.80 251.91 C627.30 251.98 627.80 252.06 628.30 252.13 C628.80 252.21 629.30 252.28 629.80 252.35 C630.30 252.43 630.80 252.50 631.30 252.57 C631.80 252.64 632.30 252.71 632.80 252.78 C633.30 252.85 633.80 252.92 634.30 252.99 C634.80 253.06 635.30 253.12 635.80 253.19 C636.30 253.25 636.80 253.32 637.30 253.38 C637.80 253.45 638.30 253.51 638.80 253.57 C639.30 253.64 639.80 253.70 640.30 253.76 C640.80 253.82 641.30 253.88 641.80 253.94 C642.30 254.00 642.80 254.06 643.30 254.12 C643.80 254.18 644.30 254.23 644.80 254.29 C645.30 254.35 645.80 254.40 646.30 254.46 C646.80 254.51 647.30 254.57 647.80 254.62 C648.30 254.67 648.80 254.73 649.30 254.78 C649.80 254.83 650.30 254.88 650.80 254.94 C651.30 254.99 651.80 255.04 652.30 255.09 C652.80 255.14 653.30 255.19 653.80 255.23 C654.30 255.28 654.80 255.33 655.30 255.38 C655.80 255.42 656.30 255.47 656.80 255.52 C657.30 255.56 657.80 255.61 658.30 255.65 C658.80 255.70 659.30 255.74 659.80 255.79 C660.30 255.83 660.80 255.87 661.30 255.92 C661.80 255.96 662.30 256.00 662.80 256.04 C663.30 256.08 663.80 256.12 664.30 256.17 C664.80 256.21 665.30 256.25 665.80 256.29 C666.30 256.33 666.80 256.36 667.30 256.40 C667.80 256.44 668.30 256.48 668.80 256.52 C669.30 256.55 669.80 256.59 670.30 256.63 C670.80 256.67 671.30 256.70 671.80 256.74 C672.30 256.77 672.80 256.81 673.30 256.84 C673.80 256.88 674.30 256.91 674.80 256.95 C675.30 256.98 675.80 257.02 676.30 257.05 C676.80 257.08 677.30 257.12 677.80 257.15 C678.30 257.18 678.80 257.21 679.30 257.25 C679.80 257.28 680.30 257.31 680.80 257.34 C681.30 257.37 681.80 257.40 682.30 257.43 C682.80 257.46 683.30 257.49 683.80 257.52 C684.30 257.55 684.80 257.58 685.30 257.61 C685.80 257.64 686.30 257.67 686.80 257.70 C687.30 257.73 687.80 257.76 688.30 257.79 C688.80 257.82 689.30 257.85 689.80 257.87 C690.30 257.90 690.80 257.93 691.30 257.96 C691.80 257.98 692.30 258.01 692.80 258.04 C693.30 258.07 693.80 258.09 694.30 258.12 C694.80 258.15 695.30 258.17 695.80 258.20 C696.30 258.23 696.80 258.25 697.30 258.28 C697.80 258.31 698.30 258.33 698.80 258.36 C699.30 258.38 699.80 258.41 700.30 258.44 C700.80 258.46 701.30 258.49 701.80 258.51 C702.30 258.54 702.80 258.57 703.30 258.59 C703.80 258.62 704.30 258.64 704.80 258.67 C705.30 258.69 705.80 258.72 706.30 258.74 C706.80 258.77 707.30 258.79 707.80 258.82 C708.30 258.84 708.80 258.87 709.30 258.89 C709.80 258.92 710.30 258.94 710.80 258.97 C711.30 258.99 711.80 259.02 712.30 259.05 C712.80 259.07 713.30 259.10 713.80 259.12 C714.30 259.15 714.80 259.17 715.30 259.20 C715.80 259.22 716.30 259.25 716.80 259.27 C717.30 259.30 717.80 259.33 718.30 259.35 C718.80 259.38 719.30 259.40 719.80 259.43 C720.30 259.45 720.80 259.48 721.30 259.51 C721.80 259.53 722.30 259.56 722.80 259.59 C723.30 259.61 723.80 259.64 724.30 259.67 C724.80 259.69 725.30 259.72 725.80 259.75 C726.30 259.77 726.80 259.80 727.30 259.83 C727.80 259.86 728.30 259.88 728.80 259.91 C729.30 259.94 729.80 259.97 730.30 260.00 C730.80 260.03 731.30 260.05 731.80 260.08 C732.30 260.11 732.80 260.14 733.30 260.17 C733.80 260.20 734.30 260.23 734.80 260.26 C735.30 260.29 735.80 260.32 736.30 260.35 C736.80 260.38 737.42 260.42 737.80 260.44 C738.18 260.47 738.47 260.49 738.60 260.49"/>
</g>
<path d="M455.80 233.80L460.20 238.20M455.80 238.20L460.20 233.80" stroke="#0000ff" stroke-width="1.60" fill="none"/>
<path d="M467.76 212.70L472.16 217.10M467.76 217.10L472.16 212.70" stroke="#0000ff" stroke-width="1.60" fill="none"/>
<path d="M479.72 167.80L484.12 172.20M479.72 172.20L484.12 167.80" stroke="#0000ff" stroke-width="1.60" fill="none"/>
<path d="M491.68 71.80L496.08 76.20M491.68 76.20L496.08 71.80" stroke="#0000ff" stroke-width="1.60" fill="none"/>
<path d="M503.64 70.30L508.04 74.70M503.64 74.70L508.04 70.30" stroke="#0000ff" stroke-width="1.60" fill="none"/>
<path d="M515.60 111.90L520.00 116.30M515.60 116.30L520.00 111.90" stroke="#0000ff" stroke-width="1.60" fill="none"/>
<path d="M527.56 141.30L531.96 145.70M527.56 145.70L531.96 141.30" stroke="#0000ff" stroke-width="1.60" fill="none"/>
<path d="M539.52 182.30L543.92 186.70M539.52 186.70L543.92 182.30" stroke="#0000ff" stroke-width="1.60" fill="none"/>
<path d="M551.48 202.60L555.88 207.00M551.48 207.00L555.88 202.60" stroke="#0000ff" stroke-width="1.60" fill="none"/>
<path d="M563.44 210.00L567.84 214.40M563.44 214.40L567.84 210.00" stroke="#0000ff" stroke-width="1.60" fill="none"/>
<path d="M575.40 222.20L579.80 226.60M575.40 226.60L579.80 222.20" stroke="#0000ff" stroke-width="1.60" fill="none"/>
<path d="M587.36 229.80L591.76 234.20M587.36 234.20L591.76 229.80" stroke="#0000ff" stroke-width="1.60" fill="none"/>
<path d="M599.32 240.30L603.72 244.70M599.32 244.70L603.72 240.30" stroke="#0000ff" stroke-width="1.60" fill="none"/>
<path d="M611.28 240.90L615.68 245.30M611.28 245.30L615.68 240.90" stroke="#0000ff" stroke-width="1.60" fill="none"/>
<path d="M623.24 246.00L627.64 250.40M623.24 250.40L627.64 246.00" stroke="#0000ff" stroke-width="1.60" fill="none"/>
<path d="M635.20 245.30L639.60 249.70M635.20 249.70L639.60 245.30" stroke="#0000ff" stroke-width="1.60" fill="none"/>
<path d="M647.16 248.10L651.56 252.50M647.16 252.50L651.56 248.10" stroke="#0000ff" stroke-width="1.60" fill="none"/>
<path d="M659.12 246.20L663.52 250.60M659.12 250.60L663.52 246.20" stroke="#0000ff" stroke-width="1.60" fill="none"/>
<path d="M671.08 250.60L675.48 255.00M671.08 255.00L675.48 250.60" stroke="#0000ff" stroke-width="1.60" fill="none"/>
<path d="M683.04 249.50L687.44 253.90M683.04 253.90L687.44 249.50" stroke="#0000ff" stroke-width="1.60" fill="none"/>
<path d="M695.00 252.10L699.40 256.50M695.00 256.50L699.40 252.10" stroke="#0000ff" stroke-width="1.60" fill="none"/>
<path d="M706.96 251.20L711.36 255.60M706.96 255.60L711.36 251.20" stroke="#0000ff" stroke-width="1.60" fill="none"/>
<path d="M718.92 249.10L723.32 253.50M718.92 253.50L723.32 249.10" stroke="#0000ff" stroke-width="1.60" fill="none"/>
<path d="M730.88 247.70L735.28 252.10M730.88 252.10L735.28 247.70" stroke="#0000ff" stroke-width="1.60" fill="none"/>
<text x="457.30" y="282.70" font-size="14.40" text-anchor="middle" textLength="21.90" lengthAdjust="spacingAndGlyphs">200</text>
<text x="504.18" y="282.70" font-size="14.40" text-anchor="middle" textLength="21.90" lengthAdjust="spacingAndGlyphs">400</text>
<text x="551.07" y="282.70" font-size="14.40" text-anchor="middle" textLength="21.90" lengthAdjust="spacingAndGlyphs">600</text>
<text x="597.95" y="282.70" font-size="14.40" text-anchor="middle" textLength="21.90" lengthAdjust="spacingAndGlyphs">800</text>
<text x="644.83" y="282.70" font-size="14.40" text-anchor="middle" textLength="29.20" lengthAdjust="spacingAndGlyphs">1000</text>
<text x="691.72" y="282.70" font-size="14.40" text-anchor="middle" textLength="29.20" lengthAdjust="spacingAndGlyphs">1200</text>
<text x="738.60" y="282.70" font-size="14.40" text-anchor="middle" textLength="29.20" lengthAdjust="spacingAndGlyphs">1400</text>
<text x="451.10" y="272.00" font-size="14.40" text-anchor="end" textLength="6.60" lengthAdjust="spacingAndGlyphs">0</text>
<text x="451.10" y="225.34" font-size="14.40" text-anchor="end" textLength="18.40" lengthAdjust="spacingAndGlyphs">0.1</text>
<text x="451.10" y="178.68" font-size="14.40" text-anchor="end" textLength="18.40" lengthAdjust="spacingAndGlyphs">0.2</text>
<text x="451.10" y="132.02" font-size="14.40" text-anchor="end" textLength="18.40" lengthAdjust="spacingAndGlyphs">0.3</text>
<text x="451.10" y="85.36" font-size="14.40" text-anchor="end" textLength="18.40" lengthAdjust="spacingAndGlyphs">0.4</text>
<text x="451.10" y="38.70" font-size="14.40" text-anchor="end" textLength="18.40" lengthAdjust="spacingAndGlyphs">0.5</text>
<text x="597.95" y="304.90" font-size="13.90" text-anchor="middle" textLength="104.00" lengthAdjust="spacingAndGlyphs">Frequency in Hz</text>
<text transform="translate(410.10 150.15) rotate(-90)" font-size="13.90" text-anchor="middle" textLength="126.2" lengthAdjust="spacingAndGlyphs">Average Dissipation</text>
<text x="529.65" y="338.80" font-size="17.40" text-anchor="start" textLength="22.90" lengthAdjust="spacingAndGlyphs">(b)</text>
<text x="560.75" y="338.80" font-size="17.40" text-anchor="start" textLength="56.60" lengthAdjust="spacingAndGlyphs">DC007</text>
<rect x="576.90" y="39.15" width="155.35" height="59.85" fill="#fff" stroke="#000" stroke-width="1.58"/>
<path d="M591.20 48.80L595.60 53.20M591.20 53.20L595.60 48.80" stroke="#0000ff" stroke-width="1.60" fill="none"/>
<path d="M581.10 68.60H605.40" stroke="#0000ff" stroke-width="0.80" stroke-dasharray="4.3 4.4" fill="none"/>
<path d="M581.10 86.30H605.40" stroke="#0000ff" stroke-width="0.80" fill="none"/>
<text x="666.70" y="55.10" font-size="13.90" text-anchor="middle" textLength="73.30" lengthAdjust="spacingAndGlyphs">Experiment</text>
<text x="666.70" y="73.20" font-size="13.90" text-anchor="middle" textLength="99.80" lengthAdjust="spacingAndGlyphs">Melling’s model</text>
<text x="666.80" y="90.70" font-size="13.90" text-anchor="middle" textLength="115.60" lengthAdjust="spacingAndGlyphs">Asymptotic model</text>
</g>
<g id="plot-c">
<path d="M80.30 610.75V604.75M80.30 377.10V383.10M127.18 610.75V604.75M127.18 377.10V383.10M174.07 610.75V604.75M174.07 377.10V383.10M220.95 610.75V604.75M220.95 377.10V383.10M267.83 610.75V604.75M267.83 377.10V383.10M314.72 610.75V604.75M314.72 377.10V383.10M361.60 610.75V604.75M361.60 377.10V383.10M80.30 610.75H86.30M361.60 610.75H355.60M80.30 564.02H86.30M361.60 564.02H355.60M80.30 517.29H86.30M361.60 517.29H355.60M80.30 470.56H86.30M361.60 470.56H355.60M80.30 423.83H86.30M361.60 423.83H355.60M80.30 377.10H86.30M361.60 377.10H355.60" stroke="#808080" stroke-width="0.45" fill="none"/>
<rect x="80.30" y="377.10" width="281.30" height="233.65" fill="none" stroke="#000" stroke-width="1.58"/>
<g clip-path="url(#cpc)" fill="none" stroke="#ff0000" stroke-width="0.80">
<path d="M80.30 608.74 C80.55 608.73 81.30 608.70 81.80 608.69 C82.30 608.67 82.80 608.64 83.30 608.62 C83.80 608.60 84.30 608.58 84.80 608.55 C85.30 608.53 85.80 608.50 86.30 608.48 C86.80 608.45 87.30 608.42 87.80 608.39 C88.30 608.36 88.80 608.33 89.30 608.30 C89.80 608.27 90.30 608.24 90.80 608.21 C91.30 608.17 91.80 608.14 92.30 608.10 C92.80 608.07 93.30 608.03 93.80 607.99 C94.30 607.95 94.80 607.91 95.30 607.87 C95.80 607.83 96.30 607.79 96.80 607.75 C97.30 607.70 97.80 607.66 98.30 607.61 C98.80 607.57 99.30 607.52 99.80 607.48 C100.30 607.43 100.80 607.38 101.30 607.33 C101.80 607.28 102.30 607.23 102.80 607.17 C103.30 607.12 103.80 607.07 104.30 607.01 C104.80 606.96 105.30 606.90 105.80 606.85 C106.30 606.79 106.80 606.73 107.30 606.67 C107.80 606.61 108.30 606.55 108.80 606.49 C109.30 606.43 109.80 606.36 110.30 606.30 C110.80 606.23 111.30 606.17 111.80 606.10 C112.30 606.03 112.80 605.97 113.30 605.90 C113.80 605.83 114.30 605.76 114.80 605.68 C115.30 605.61 115.80 605.54 116.30 605.47 C116.80 605.39 117.30 605.32 117.80 605.24 C118.30 605.16 118.80 605.08 119.30 605.00 C119.80 604.92 120.30 604.84 120.80 604.76 C121.30 604.68 121.80 604.60 122.30 604.51 C122.80 604.43 123.30 604.34 123.80 604.26 C124.30 604.17 124.80 604.08 125.30 603.99 C125.80 603.90 126.30 603.81 126.80 603.72 C127.30 603.63 127.80 603.53 128.30 603.44 C128.80 603.34 129.30 603.25 129.80 603.15 C130.30 603.05 130.80 602.96 131.30 602.86 C131.80 602.76 132.30 602.66 132.80 602.55 C133.30 602.45 133.80 602.35 134.30 602.24 C134.80 602.14 135.30 602.03 135.80 601.92 C136.30 601.82 136.80 601.71 137.30 601.60 C137.80 601.49 138.30 601.38 138.80 601.26 C139.30 601.15 139.80 601.04 140.30 600.92 C140.80 600.81 141.30 600.69 141.80 600.57 C142.30 600.45 142.80 600.33 143.30 600.21 C143.80 600.09 144.30 599.97 144.80 599.85 C145.30 599.72 145.80 599.60 146.30 599.47 C146.80 599.35 147.30 599.22 147.80 599.09 C148.30 598.96 148.80 598.83 149.30 598.70 C149.80 598.57 150.30 598.44 150.80 598.30 C151.30 598.17 151.80 598.03 152.30 597.90 C152.80 597.76 153.30 597.62 153.80 597.48 C154.30 597.34 154.80 597.20 155.30 597.06 C155.80 596.92 156.30 596.77 156.80 596.63 C157.30 596.48 157.80 596.34 158.30 596.19 C158.80 596.04 159.30 595.89 159.80 595.74 C160.30 595.59 160.80 595.44 161.30 595.28 C161.80 595.13 162.30 594.98 162.80 594.82 C163.30 594.66 163.80 594.51 164.30 594.35 C164.80 594.19 165.30 594.03 165.80 593.87 C166.30 593.71 166.80 593.54 167.30 593.38 C167.80 593.21 168.30 593.05 168.80 592.88 C169.30 592.71 169.80 592.54 170.30 592.37 C170.80 592.20 171.30 592.03 171.80 591.86 C172.30 591.69 172.80 591.51 173.30 591.33 C173.80 591.16 174.30 590.98 174.80 590.80 C175.30 590.62 175.80 590.44 176.30 590.26 C176.80 590.08 177.30 589.90 177.80 589.71 C178.30 589.53 178.80 589.34 179.30 589.16 C179.80 588.97 180.30 588.78 180.80 588.59 C181.30 588.40 181.80 588.21 182.30 588.02 C182.80 587.83 183.30 587.64 183.80 587.45 C184.30 587.26 184.80 587.06 185.30 586.87 C185.80 586.67 186.30 586.48 186.80 586.28 C187.30 586.09 187.80 585.89 188.30 585.70 C188.80 585.50 189.30 585.30 189.80 585.10 C190.30 584.91 190.80 584.71 191.30 584.51 C191.80 584.31 192.30 584.12 192.80 583.92 C193.30 583.72 193.80 583.52 194.30 583.32 C194.80 583.12 195.30 582.93 195.80 582.73 C196.30 582.53 196.80 582.33 197.30 582.13 C197.80 581.94 198.30 581.74 198.80 581.54 C199.30 581.34 199.80 581.15 200.30 580.95 C200.80 580.75 201.30 580.56 201.80 580.36 C202.30 580.17 202.80 579.97 203.30 579.78 C203.80 579.58 204.30 579.39 204.80 579.20 C205.30 579.00 205.80 578.81 206.30 578.62 C206.80 578.43 207.30 578.24 207.80 578.05 C208.30 577.86 208.80 577.67 209.30 577.49 C209.80 577.30 210.30 577.11 210.80 576.93 C211.30 576.74 211.80 576.56 212.30 576.38 C212.80 576.20 213.30 576.02 213.80 575.84 C214.30 575.66 214.80 575.48 215.30 575.30 C215.80 575.13 216.30 574.95 216.80 574.78 C217.30 574.61 217.80 574.44 218.30 574.27 C218.80 574.10 219.30 573.93 219.80 573.77 C220.30 573.60 220.80 573.44 221.30 573.28 C221.80 573.12 222.30 572.96 222.80 572.80 C223.30 572.65 223.80 572.49 224.30 572.34 C224.80 572.19 225.30 572.04 225.80 571.89 C226.30 571.74 226.80 571.60 227.30 571.45 C227.80 571.31 228.30 571.17 228.80 571.03 C229.30 570.89 229.80 570.76 230.30 570.63 C230.80 570.50 231.30 570.37 231.80 570.24 C232.30 570.11 232.80 569.99 233.30 569.87 C233.80 569.75 234.30 569.63 234.80 569.52 C235.30 569.40 235.80 569.29 236.30 569.18 C236.80 569.08 237.30 568.97 237.80 568.87 C238.30 568.77 238.80 568.67 239.30 568.57 C239.80 568.48 240.30 568.39 240.80 568.30 C241.30 568.21 241.80 568.12 242.30 568.04 C242.80 567.96 243.30 567.88 243.80 567.80 C244.30 567.72 244.80 567.65 245.30 567.58 C245.80 567.51 246.30 567.44 246.80 567.37 C247.30 567.31 247.80 567.25 248.30 567.19 C248.80 567.13 249.30 567.07 249.80 567.02 C250.30 566.97 250.80 566.92 251.30 566.87 C251.80 566.82 252.30 566.77 252.80 566.73 C253.30 566.69 253.80 566.65 254.30 566.61 C254.80 566.58 255.30 566.54 255.80 566.51 C256.30 566.48 256.80 566.45 257.30 566.43 C257.80 566.40 258.30 566.38 258.80 566.35 C259.30 566.33 259.80 566.32 260.30 566.30 C260.80 566.28 261.30 566.27 261.80 566.26 C262.30 566.25 262.80 566.24 263.30 566.23 C263.80 566.23 264.30 566.22 264.80 566.22 C265.30 566.22 265.80 566.22 266.30 566.23 C266.80 566.23 267.30 566.24 267.80 566.24 C268.30 566.25 268.80 566.26 269.30 566.28 C269.80 566.29 270.30 566.30 270.80 566.32 C271.30 566.34 271.80 566.36 272.30 566.38 C272.80 566.40 273.30 566.42 273.80 566.45 C274.30 566.48 274.80 566.50 275.30 566.53 C275.80 566.56 276.30 566.60 276.80 566.63 C277.30 566.67 277.80 566.70 278.30 566.74 C278.80 566.78 279.30 566.82 279.80 566.86 C280.30 566.90 280.80 566.95 281.30 566.99 C281.80 567.04 282.30 567.09 282.80 567.14 C283.30 567.19 283.80 567.24 284.30 567.29 C284.80 567.34 285.30 567.40 285.80 567.46 C286.30 567.51 286.80 567.57 287.30 567.63 C287.80 567.69 288.30 567.75 288.80 567.82 C289.30 567.88 289.80 567.95 290.30 568.01 C290.80 568.08 291.30 568.15 291.80 568.22 C292.30 568.29 292.80 568.36 293.30 568.44 C293.80 568.51 294.30 568.58 294.80 568.66 C295.30 568.74 295.80 568.82 296.30 568.90 C296.80 568.97 297.30 569.06 297.80 569.14 C298.30 569.22 298.80 569.30 299.30 569.39 C299.80 569.47 300.30 569.56 300.80 569.65 C301.30 569.74 301.80 569.82 302.30 569.91 C302.80 570.00 303.30 570.10 303.80 570.19 C304.30 570.28 304.80 570.38 305.30 570.47 C305.80 570.57 306.30 570.66 306.80 570.76 C307.30 570.86 307.80 570.96 308.30 571.06 C308.80 571.16 309.30 571.26 309.80 571.36 C310.30 571.46 310.80 571.56 311.30 571.67 C311.80 571.77 312.30 571.88 312.80 571.98 C313.30 572.09 313.80 572.19 314.30 572.30 C314.80 572.41 315.30 572.52 315.80 572.63 C316.30 572.74 316.80 572.85 317.30 572.96 C317.80 573.07 318.30 573.18 318.80 573.29 C319.30 573.41 319.80 573.52 320.30 573.63 C320.80 573.75 321.30 573.86 321.80 573.98 C322.30 574.09 322.80 574.21 323.30 574.33 C323.80 574.44 324.30 574.56 324.80 574.68 C325.30 574.80 325.80 574.92 326.30 575.04 C326.80 575.16 327.30 575.28 327.80 575.40 C328.30 575.52 328.80 575.64 329.30 575.76 C329.80 575.88 330.30 576.00 330.80 576.12 C331.30 576.25 331.80 576.37 332.30 576.49 C332.80 576.62 333.30 576.74 333.80 576.86 C334.30 576.99 334.80 577.11 335.30 577.24 C335.80 577.36 336.30 577.48 336.80 577.61 C337.30 577.73 337.80 577.86 338.30 577.98 C338.80 578.11 339.30 578.24 339.80 578.36 C340.30 578.49 340.80 578.61 341.30 578.74 C341.80 578.86 342.30 578.99 342.80 579.12 C343.30 579.24 343.80 579.37 344.30 579.49 C344.80 579.62 345.30 579.75 345.80 579.87 C346.30 580.00 346.80 580.13 347.30 580.25 C347.80 580.38 348.30 580.50 348.80 580.63 C349.30 580.75 349.80 580.88 350.30 581.01 C350.80 581.13 351.30 581.26 351.80 581.38 C352.30 581.51 352.80 581.63 353.30 581.76 C353.80 581.88 354.30 582.01 354.80 582.13 C355.30 582.25 355.80 582.38 356.30 582.50 C356.80 582.62 357.30 582.75 357.80 582.87 C358.30 582.99 358.80 583.12 359.30 583.24 C359.80 583.36 360.42 583.51 360.80 583.60 C361.18 583.69 361.47 583.76 361.60 583.80" stroke-dasharray="4.3 4.4"/>
<path d="M80.30 607.75 C80.55 607.72 81.30 607.62 81.80 607.55 C82.30 607.49 82.80 607.42 83.30 607.35 C83.80 607.28 84.30 607.20 84.80 607.13 C85.30 607.06 85.80 606.98 86.30 606.91 C86.80 606.83 87.30 606.75 87.80 606.67 C88.30 606.59 88.80 606.51 89.30 606.43 C89.80 606.35 90.30 606.27 90.80 606.18 C91.30 606.10 91.80 606.01 92.30 605.92 C92.80 605.84 93.30 605.75 93.80 605.66 C94.30 605.57 94.80 605.47 95.30 605.38 C95.80 605.29 96.30 605.19 96.80 605.10 C97.30 605.00 97.80 604.90 98.30 604.80 C98.80 604.70 99.30 604.60 99.80 604.50 C100.30 604.40 100.80 604.30 101.30 604.19 C101.80 604.09 102.30 603.98 102.80 603.87 C103.30 603.77 103.80 603.66 104.30 603.55 C104.80 603.43 105.30 603.32 105.80 603.21 C106.30 603.10 106.80 602.98 107.30 602.86 C107.80 602.75 108.30 602.63 108.80 602.51 C109.30 602.39 109.80 602.27 110.30 602.15 C110.80 602.02 111.30 601.90 111.80 601.77 C112.30 601.65 112.80 601.52 113.30 601.39 C113.80 601.26 114.30 601.13 114.80 601.00 C115.30 600.87 115.80 600.74 116.30 600.60 C116.80 600.47 117.30 600.33 117.80 600.19 C118.30 600.06 118.80 599.92 119.30 599.78 C119.80 599.64 120.30 599.49 120.80 599.35 C121.30 599.21 121.80 599.06 122.30 598.91 C122.80 598.77 123.30 598.62 123.80 598.47 C124.30 598.32 124.80 598.17 125.30 598.01 C125.80 597.86 126.30 597.70 126.80 597.55 C127.30 597.39 127.80 597.23 128.30 597.07 C128.80 596.91 129.30 596.75 129.80 596.59 C130.30 596.43 130.80 596.26 131.30 596.10 C131.80 595.93 132.30 595.77 132.80 595.60 C133.30 595.43 133.80 595.26 134.30 595.08 C134.80 594.91 135.30 594.74 135.80 594.56 C136.30 594.39 136.80 594.21 137.30 594.03 C137.80 593.85 138.30 593.67 138.80 593.49 C139.30 593.31 139.80 593.13 140.30 592.94 C140.80 592.75 141.30 592.57 141.80 592.38 C142.30 592.19 142.80 592.00 143.30 591.81 C143.80 591.62 144.30 591.42 144.80 591.23 C145.30 591.03 145.80 590.84 146.30 590.64 C146.80 590.44 147.30 590.24 147.80 590.04 C148.30 589.84 148.80 589.63 149.30 589.43 C149.80 589.22 150.30 589.02 150.80 588.81 C151.30 588.60 151.80 588.39 152.30 588.18 C152.80 587.97 153.30 587.75 153.80 587.54 C154.30 587.32 154.80 587.11 155.30 586.89 C155.80 586.67 156.30 586.45 156.80 586.23 C157.30 586.01 157.80 585.78 158.30 585.56 C158.80 585.33 159.30 585.11 159.80 584.88 C160.30 584.65 160.80 584.42 161.30 584.19 C161.80 583.95 162.30 583.72 162.80 583.48 C163.30 583.25 163.80 583.01 164.30 582.77 C164.80 582.53 165.30 582.29 165.80 582.05 C166.30 581.81 166.80 581.56 167.30 581.32 C167.80 581.07 168.30 580.82 168.80 580.58 C169.30 580.33 169.80 580.08 170.30 579.82 C170.80 579.57 171.30 579.32 171.80 579.06 C172.30 578.81 172.80 578.55 173.30 578.30 C173.80 578.04 174.30 577.78 174.80 577.52 C175.30 577.27 175.80 577.01 176.30 576.75 C176.80 576.49 177.30 576.23 177.80 575.97 C178.30 575.70 178.80 575.44 179.30 575.18 C179.80 574.92 180.30 574.66 180.80 574.40 C181.30 574.13 181.80 573.87 182.30 573.61 C182.80 573.35 183.30 573.09 183.80 572.83 C184.30 572.56 184.80 572.30 185.30 572.04 C185.80 571.78 186.30 571.52 186.80 571.26 C187.30 571.00 187.80 570.74 188.30 570.48 C188.80 570.23 189.30 569.97 189.80 569.71 C190.30 569.45 190.80 569.20 191.30 568.94 C191.80 568.69 192.30 568.44 192.80 568.19 C193.30 567.93 193.80 567.68 194.30 567.43 C194.80 567.19 195.30 566.94 195.80 566.69 C196.30 566.45 196.80 566.20 197.30 565.96 C197.80 565.72 198.30 565.48 198.80 565.24 C199.30 565.00 199.80 564.76 200.30 564.53 C200.80 564.30 201.30 564.06 201.80 563.83 C202.30 563.61 202.80 563.38 203.30 563.15 C203.80 562.93 204.30 562.71 204.80 562.49 C205.30 562.27 205.80 562.05 206.30 561.84 C206.80 561.63 207.30 561.42 207.80 561.21 C208.30 561.00 208.80 560.80 209.30 560.60 C209.80 560.40 210.30 560.20 210.80 560.00 C211.30 559.81 211.80 559.62 212.30 559.43 C212.80 559.25 213.30 559.06 213.80 558.88 C214.30 558.70 214.80 558.53 215.30 558.36 C215.80 558.18 216.30 558.02 216.80 557.85 C217.30 557.69 217.80 557.53 218.30 557.38 C218.80 557.22 219.30 557.07 219.80 556.92 C220.30 556.78 220.80 556.64 221.30 556.50 C221.80 556.36 222.30 556.23 222.80 556.10 C223.30 555.98 223.80 555.85 224.30 555.73 C224.80 555.62 225.30 555.50 225.80 555.39 C226.30 555.28 226.80 555.18 227.30 555.08 C227.80 554.98 228.30 554.88 228.80 554.79 C229.30 554.70 229.80 554.61 230.30 554.53 C230.80 554.44 231.30 554.36 231.80 554.29 C232.30 554.21 232.80 554.14 233.30 554.07 C233.80 554.01 234.30 553.94 234.80 553.89 C235.30 553.83 235.80 553.77 236.30 553.72 C236.80 553.67 237.30 553.62 237.80 553.58 C238.30 553.54 238.80 553.50 239.30 553.46 C239.80 553.43 240.30 553.39 240.80 553.37 C241.30 553.34 241.80 553.31 242.30 553.29 C242.80 553.27 243.30 553.25 243.80 553.24 C244.30 553.23 244.80 553.22 245.30 553.21 C245.80 553.20 246.30 553.20 246.80 553.20 C247.30 553.20 247.80 553.20 248.30 553.21 C248.80 553.22 249.30 553.23 249.80 553.24 C250.30 553.25 250.80 553.27 251.30 553.29 C251.80 553.31 252.30 553.33 252.80 553.36 C253.30 553.39 253.80 553.42 254.30 553.45 C254.80 553.48 255.30 553.52 255.80 553.55 C256.30 553.59 256.80 553.63 257.30 553.68 C257.80 553.72 258.30 553.77 258.80 553.82 C259.30 553.87 259.80 553.92 260.30 553.98 C260.80 554.03 261.30 554.09 261.80 554.15 C262.30 554.21 262.80 554.27 263.30 554.34 C263.80 554.41 264.30 554.47 264.80 554.55 C265.30 554.62 265.80 554.69 266.30 554.77 C266.80 554.84 267.30 554.92 267.80 555.00 C268.30 555.08 268.80 555.17 269.30 555.25 C269.80 555.34 270.30 555.42 270.80 555.51 C271.30 555.60 271.80 555.70 272.30 555.79 C272.80 555.88 273.30 555.98 273.80 556.08 C274.30 556.18 274.80 556.28 275.30 556.38 C275.80 556.48 276.30 556.59 276.80 556.69 C277.30 556.80 277.80 556.91 278.30 557.02 C278.80 557.13 279.30 557.24 279.80 557.36 C280.30 557.47 280.80 557.59 281.30 557.70 C281.80 557.82 282.30 557.94 282.80 558.06 C283.30 558.18 283.80 558.30 284.30 558.43 C284.80 558.55 285.30 558.68 285.80 558.80 C286.30 558.93 286.80 559.06 287.30 559.19 C287.80 559.32 288.30 559.45 288.80 559.58 C289.30 559.71 289.80 559.85 290.30 559.98 C290.80 560.12 291.30 560.25 291.80 560.39 C292.30 560.53 292.80 560.67 293.30 560.81 C293.80 560.95 294.30 561.09 294.80 561.23 C295.30 561.37 295.80 561.51 296.30 561.66 C296.80 561.80 297.30 561.95 297.80 562.09 C298.30 562.24 298.80 562.39 299.30 562.53 C299.80 562.68 300.30 562.83 300.80 562.98 C301.30 563.13 301.80 563.28 302.30 563.43 C302.80 563.58 303.30 563.73 303.80 563.88 C304.30 564.03 304.80 564.18 305.30 564.34 C305.80 564.49 306.30 564.64 306.80 564.80 C307.30 564.95 307.80 565.10 308.30 565.26 C308.80 565.41 309.30 565.57 309.80 565.72 C310.30 565.88 310.80 566.03 311.30 566.19 C311.80 566.34 312.30 566.50 312.80 566.66 C313.30 566.81 313.80 566.97 314.30 567.12 C314.80 567.28 315.30 567.44 315.80 567.59 C316.30 567.75 316.80 567.91 317.30 568.06 C317.80 568.22 318.30 568.37 318.80 568.53 C319.30 568.69 319.80 568.84 320.30 569.00 C320.80 569.15 321.30 569.31 321.80 569.46 C322.30 569.62 322.80 569.77 323.30 569.93 C323.80 570.08 324.30 570.24 324.80 570.39 C325.30 570.54 325.80 570.70 326.30 570.85 C326.80 571.00 327.30 571.15 327.80 571.31 C328.30 571.46 328.80 571.61 329.30 571.76 C329.80 571.91 330.30 572.06 330.80 572.21 C331.30 572.36 331.80 572.50 332.30 572.65 C332.80 572.80 333.30 572.94 333.80 573.09 C334.30 573.24 334.80 573.38 335.30 573.52 C335.80 573.67 336.30 573.81 336.80 573.95 C337.30 574.09 337.80 574.23 338.30 574.37 C338.80 574.51 339.30 574.65 339.80 574.79 C340.30 574.93 340.80 575.06 341.30 575.20 C341.80 575.33 342.30 575.47 342.80 575.60 C343.30 575.73 343.80 575.86 344.30 575.99 C344.80 576.12 345.30 576.25 345.80 576.37 C346.30 576.50 346.80 576.63 347.30 576.75 C347.80 576.87 348.30 577.00 348.80 577.12 C349.30 577.24 349.80 577.35 350.30 577.47 C350.80 577.59 351.30 577.70 351.80 577.82 C352.30 577.93 352.80 578.04 353.30 578.15 C353.80 578.26 354.30 578.37 354.80 578.48 C355.30 578.58 355.80 578.69 356.30 578.79 C356.80 578.89 357.30 578.99 357.80 579.09 C358.30 579.19 358.80 579.28 359.30 579.38 C359.80 579.47 360.42 579.58 360.80 579.65 C361.18 579.72 361.47 579.77 361.60 579.79"/>
</g>
<path d="M81.00 591.00L78.49 595.35L83.51 595.35Z" stroke="#ff0000" stroke-width="1.45" fill="none" stroke-linejoin="miter"/>
<path d="M92.96 569.80L90.45 574.15L95.47 574.15Z" stroke="#ff0000" stroke-width="1.45" fill="none" stroke-linejoin="miter"/>
<path d="M104.92 596.10L102.41 600.45L107.43 600.45Z" stroke="#ff0000" stroke-width="1.45" fill="none" stroke-linejoin="miter"/>
<path d="M116.88 587.30L114.37 591.65L119.39 591.65Z" stroke="#ff0000" stroke-width="1.45" fill="none" stroke-linejoin="miter"/>
<path d="M128.84 578.80L126.33 583.15L131.35 583.15Z" stroke="#ff0000" stroke-width="1.45" fill="none" stroke-linejoin="miter"/>
<path d="M140.80 589.20L138.29 593.55L143.31 593.55Z" stroke="#ff0000" stroke-width="1.45" fill="none" stroke-linejoin="miter"/>
<path d="M152.76 579.50L150.25 583.85L155.27 583.85Z" stroke="#ff0000" stroke-width="1.45" fill="none" stroke-linejoin="miter"/>
<path d="M164.72 580.50L162.21 584.85L167.23 584.85Z" stroke="#ff0000" stroke-width="1.45" fill="none" stroke-linejoin="miter"/>
<path d="M176.68 575.40L174.17 579.75L179.19 579.75Z" stroke="#ff0000" stroke-width="1.45" fill="none" stroke-linejoin="miter"/>
<path d="M188.64 563.60L186.13 567.95L191.15 567.95Z" stroke="#ff0000" stroke-width="1.45" fill="none" stroke-linejoin="miter"/>
<path d="M200.60 556.60L198.09 560.95L203.11 560.95Z" stroke="#ff0000" stroke-width="1.45" fill="none" stroke-linejoin="miter"/>
<path d="M212.56 550.20L210.05 554.55L215.07 554.55Z" stroke="#ff0000" stroke-width="1.45" fill="none" stroke-linejoin="miter"/>
<path d="M224.52 551.10L222.01 555.45L227.03 555.45Z" stroke="#ff0000" stroke-width="1.45" fill="none" stroke-linejoin="miter"/>
<path d="M236.48 550.60L233.97 554.95L238.99 554.95Z" stroke="#ff0000" stroke-width="1.45" fill="none" stroke-linejoin="miter"/>
<path d="M248.44 540.70L245.93 545.05L250.95 545.05Z" stroke="#ff0000" stroke-width="1.45" fill="none" stroke-linejoin="miter"/>
<path d="M260.40 542.00L257.89 546.35L262.91 546.35Z" stroke="#ff0000" stroke-width="1.45" fill="none" stroke-linejoin="miter"/>
<path d="M272.36 545.70L269.85 550.05L274.87 550.05Z" stroke="#ff0000" stroke-width="1.45" fill="none" stroke-linejoin="miter"/>
<path d="M284.32 542.00L281.81 546.35L286.83 546.35Z" stroke="#ff0000" stroke-width="1.45" fill="none" stroke-linejoin="miter"/>
<path d="M296.28 547.20L293.77 551.55L298.79 551.55Z" stroke="#ff0000" stroke-width="1.45" fill="none" stroke-linejoin="miter"/>
<path d="M308.24 549.50L305.73 553.85L310.75 553.85Z" stroke="#ff0000" stroke-width="1.45" fill="none" stroke-linejoin="miter"/>
<path d="M320.20 555.90L317.69 560.25L322.71 560.25Z" stroke="#ff0000" stroke-width="1.45" fill="none" stroke-linejoin="miter"/>
<path d="M332.16 560.30L329.65 564.65L334.67 564.65Z" stroke="#ff0000" stroke-width="1.45" fill="none" stroke-linejoin="miter"/>
<path d="M344.12 557.60L341.61 561.95L346.63 561.95Z" stroke="#ff0000" stroke-width="1.45" fill="none" stroke-linejoin="miter"/>
<path d="M356.08 547.70L353.57 552.05L358.59 552.05Z" stroke="#ff0000" stroke-width="1.45" fill="none" stroke-linejoin="miter"/>
<text x="80.30" y="625.90" font-size="14.40" text-anchor="middle" textLength="21.90" lengthAdjust="spacingAndGlyphs">200</text>
<text x="127.18" y="625.90" font-size="14.40" text-anchor="middle" textLength="21.90" lengthAdjust="spacingAndGlyphs">400</text>
<text x="174.07" y="625.90" font-size="14.40" text-anchor="middle" textLength="21.90" lengthAdjust="spacingAndGlyphs">600</text>
<text x="220.95" y="625.90" font-size="14.40" text-anchor="middle" textLength="21.90" lengthAdjust="spacingAndGlyphs">800</text>
<text x="267.83" y="625.90" font-size="14.40" text-anchor="middle" textLength="29.20" lengthAdjust="spacingAndGlyphs">1000</text>
<text x="314.72" y="625.90" font-size="14.40" text-anchor="middle" textLength="29.20" lengthAdjust="spacingAndGlyphs">1200</text>
<text x="361.60" y="625.90" font-size="14.40" text-anchor="middle" textLength="29.20" lengthAdjust="spacingAndGlyphs">1400</text>
<text x="74.10" y="615.55" font-size="14.40" text-anchor="end" textLength="6.60" lengthAdjust="spacingAndGlyphs">0</text>
<text x="74.10" y="568.82" font-size="14.40" text-anchor="end" textLength="18.40" lengthAdjust="spacingAndGlyphs">0.1</text>
<text x="74.10" y="522.09" font-size="14.40" text-anchor="end" textLength="18.40" lengthAdjust="spacingAndGlyphs">0.2</text>
<text x="74.10" y="475.36" font-size="14.40" text-anchor="end" textLength="18.40" lengthAdjust="spacingAndGlyphs">0.3</text>
<text x="74.10" y="428.63" font-size="14.40" text-anchor="end" textLength="18.40" lengthAdjust="spacingAndGlyphs">0.4</text>
<text x="74.10" y="381.90" font-size="14.40" text-anchor="end" textLength="18.40" lengthAdjust="spacingAndGlyphs">0.5</text>
<text x="220.95" y="648.10" font-size="13.90" text-anchor="middle" textLength="104.00" lengthAdjust="spacingAndGlyphs">Frequency in Hz</text>
<text transform="translate(33.10 493.53) rotate(-90)" font-size="13.90" text-anchor="middle" textLength="126.2" lengthAdjust="spacingAndGlyphs">Average Dissipation</text>
<text x="153.35" y="682.00" font-size="17.40" text-anchor="start" textLength="21.50" lengthAdjust="spacingAndGlyphs">(c)</text>
<text x="183.05" y="682.00" font-size="17.40" text-anchor="start" textLength="56.60" lengthAdjust="spacingAndGlyphs">DC008</text>
<rect x="199.90" y="382.35" width="155.35" height="59.85" fill="#fff" stroke="#000" stroke-width="1.58"/>
<path d="M216.40 391.30L213.89 395.65L218.91 395.65Z" stroke="#ff0000" stroke-width="1.45" fill="none" stroke-linejoin="miter"/>
<path d="M204.10 411.80H228.40" stroke="#ff0000" stroke-width="0.80" stroke-dasharray="4.3 4.4" fill="none"/>
<path d="M204.10 429.50H228.40" stroke="#ff0000" stroke-width="0.80" fill="none"/>
<text x="289.70" y="398.30" font-size="13.90" text-anchor="middle" textLength="73.30" lengthAdjust="spacingAndGlyphs">Experiment</text>
<text x="289.70" y="416.40" font-size="13.90" text-anchor="middle" textLength="99.80" lengthAdjust="spacingAndGlyphs">Melling’s model</text>
<text x="289.80" y="433.90" font-size="13.90" text-anchor="middle" textLength="115.60" lengthAdjust="spacingAndGlyphs">Asymptotic model</text>
</g>
<g id="plot-d">
<path d="M457.30 610.75V604.75M457.30 377.10V383.10M504.18 610.75V604.75M504.18 377.10V383.10M551.07 610.75V604.75M551.07 377.10V383.10M597.95 610.75V604.75M597.95 377.10V383.10M644.83 610.75V604.75M644.83 377.10V383.10M691.72 610.75V604.75M691.72 377.10V383.10M738.60 610.75V604.75M738.60 377.10V383.10M457.30 610.75H463.30M738.60 610.75H732.60M457.30 564.02H463.30M738.60 564.02H732.60M457.30 517.29H463.30M738.60 517.29H732.60M457.30 470.56H463.30M738.60 470.56H732.60M457.30 423.83H463.30M738.60 423.83H732.60M457.30 377.10H463.30M738.60 377.10H732.60" stroke="#808080" stroke-width="0.45" fill="none"/>
<rect x="457.30" y="377.10" width="281.30" height="233.65" fill="none" stroke="#000" stroke-width="1.58"/>
<g clip-path="url(#cpd)" fill="none" stroke="#00ff00" stroke-width="0.80">
<path d="M458.04 423.12 C458.11 423.36 458.34 424.07 458.48 424.55 C458.62 425.03 458.77 425.51 458.91 426.00 C459.05 426.48 459.18 426.96 459.32 427.45 C459.45 427.93 459.58 428.42 459.71 428.90 C459.84 429.39 459.97 429.88 460.10 430.36 C460.22 430.85 460.35 431.34 460.47 431.83 C460.59 432.32 460.71 432.81 460.83 433.30 C460.94 433.79 461.06 434.29 461.17 434.78 C461.28 435.27 461.40 435.77 461.51 436.26 C461.62 436.76 461.72 437.25 461.83 437.75 C461.94 438.24 462.04 438.74 462.14 439.24 C462.25 439.73 462.35 440.23 462.45 440.73 C462.55 441.23 462.64 441.73 462.74 442.23 C462.84 442.73 462.93 443.23 463.03 443.73 C463.12 444.23 463.21 444.73 463.30 445.24 C463.40 445.74 463.49 446.24 463.57 446.74 C463.66 447.25 463.75 447.75 463.84 448.26 C463.92 448.76 464.01 449.26 464.09 449.77 C464.18 450.27 464.26 450.78 464.34 451.29 C464.43 451.79 464.51 452.30 464.59 452.80 C464.67 453.31 464.75 453.82 464.83 454.32 C464.91 454.83 464.99 455.34 465.06 455.85 C465.14 456.36 465.22 456.86 465.29 457.37 C465.37 457.88 465.45 458.39 465.52 458.90 C465.60 459.41 465.67 459.91 465.75 460.42 C465.82 460.93 465.90 461.44 465.97 461.95 C466.05 462.46 466.12 462.97 466.19 463.48 C466.27 463.99 466.34 464.50 466.41 465.01 C466.49 465.52 466.56 466.03 466.63 466.54 C466.70 467.05 466.78 467.55 466.85 468.06 C466.92 468.57 467.00 469.08 467.07 469.59 C467.14 470.10 467.22 470.61 467.29 471.12 C467.36 471.63 467.44 472.14 467.51 472.65 C467.59 473.16 467.66 473.67 467.74 474.18 C467.81 474.68 467.89 475.19 467.96 475.70 C468.04 476.21 468.12 476.72 468.19 477.22 C468.27 477.73 468.35 478.24 468.43 478.75 C468.50 479.25 468.58 479.76 468.66 480.27 C468.74 480.77 468.82 481.28 468.91 481.79 C468.99 482.29 469.07 482.80 469.15 483.30 C469.24 483.81 469.32 484.31 469.41 484.82 C469.49 485.32 469.58 485.83 469.66 486.33 C469.75 486.83 469.84 487.34 469.93 487.84 C470.02 488.34 470.11 488.84 470.20 489.34 C470.29 489.85 470.38 490.35 470.48 490.85 C470.57 491.35 470.67 491.85 470.76 492.35 C470.86 492.85 470.96 493.35 471.05 493.85 C471.15 494.35 471.25 494.85 471.35 495.35 C471.45 495.85 471.55 496.35 471.66 496.84 C471.76 497.34 471.86 497.84 471.97 498.34 C472.07 498.84 472.18 499.33 472.29 499.83 C472.39 500.33 472.50 500.82 472.61 501.32 C472.72 501.82 472.83 502.31 472.94 502.81 C473.06 503.31 473.17 503.80 473.29 504.30 C473.40 504.79 473.52 505.29 473.63 505.78 C473.75 506.28 473.87 506.77 473.99 507.27 C474.11 507.76 474.23 508.26 474.35 508.75 C474.48 509.24 474.60 509.74 474.72 510.23 C474.85 510.72 474.98 511.22 475.10 511.71 C475.23 512.20 475.36 512.70 475.49 513.19 C475.62 513.68 475.75 514.17 475.89 514.67 C476.02 515.16 476.16 515.65 476.29 516.14 C476.43 516.64 476.57 517.13 476.70 517.62 C476.84 518.11 476.98 518.60 477.13 519.09 C477.27 519.59 477.41 520.08 477.56 520.57 C477.70 521.06 477.85 521.55 478.00 522.04 C478.14 522.53 478.29 523.02 478.44 523.51 C478.59 524.01 478.75 524.50 478.90 524.99 C479.05 525.48 479.21 525.97 479.37 526.46 C479.52 526.95 479.68 527.44 479.84 527.93 C480.00 528.42 480.16 528.91 480.33 529.40 C480.49 529.89 480.66 530.38 480.82 530.87 C480.99 531.36 481.16 531.85 481.33 532.34 C481.50 532.83 481.67 533.32 481.84 533.81 C482.01 534.30 482.19 534.79 482.36 535.28 C482.54 535.77 482.72 536.26 482.90 536.75 C483.08 537.24 483.26 537.72 483.45 538.21 C483.63 538.70 483.82 539.18 484.01 539.67 C484.20 540.15 484.39 540.64 484.59 541.12 C484.78 541.61 484.98 542.09 485.18 542.57 C485.38 543.05 485.58 543.53 485.78 544.01 C485.99 544.49 486.19 544.96 486.40 545.44 C486.62 545.91 486.83 546.39 487.04 546.86 C487.26 547.33 487.48 547.80 487.70 548.27 C487.92 548.73 488.15 549.20 488.38 549.66 C488.61 550.13 488.84 550.59 489.08 551.05 C489.31 551.51 489.55 551.96 489.79 552.42 C490.03 552.87 490.28 553.32 490.53 553.77 C490.78 554.22 491.03 554.67 491.29 555.11 C491.55 555.55 491.81 556.00 492.08 556.43 C492.34 556.87 492.61 557.30 492.88 557.74 C493.16 558.17 493.43 558.59 493.72 559.02 C494.00 559.44 494.28 559.86 494.57 560.28 C494.86 560.70 495.16 561.11 495.46 561.52 C495.76 561.93 496.06 562.34 496.37 562.74 C496.68 563.14 496.99 563.54 497.31 563.93 C497.63 564.33 497.95 564.72 498.28 565.10 C498.61 565.49 498.94 565.87 499.28 566.25 C499.61 566.62 499.96 567.00 500.30 567.37 C500.65 567.74 501.00 568.10 501.35 568.46 C501.71 568.82 502.07 569.18 502.43 569.53 C502.79 569.88 503.16 570.23 503.53 570.57 C503.90 570.92 504.28 571.26 504.66 571.59 C505.04 571.93 505.42 572.26 505.81 572.58 C506.19 572.91 506.58 573.23 506.98 573.55 C507.37 573.87 507.77 574.18 508.17 574.49 C508.57 574.80 508.98 575.11 509.39 575.41 C509.79 575.71 510.21 576.01 510.62 576.30 C511.03 576.59 511.45 576.88 511.87 577.16 C512.29 577.45 512.72 577.73 513.14 578.00 C513.57 578.28 514.00 578.55 514.43 578.82 C514.87 579.08 515.30 579.35 515.74 579.60 C516.18 579.86 516.62 580.12 517.06 580.37 C517.50 580.62 517.95 580.86 518.40 581.10 C518.84 581.34 519.29 581.58 519.75 581.81 C520.20 582.04 520.65 582.27 521.11 582.50 C521.56 582.72 522.02 582.94 522.48 583.15 C522.94 583.37 523.41 583.58 523.87 583.79 C524.33 583.99 524.80 584.20 525.27 584.39 C525.74 584.59 526.21 584.79 526.68 584.98 C527.15 585.17 527.62 585.36 528.10 585.54 C528.57 585.72 529.05 585.90 529.53 586.08 C530.00 586.25 530.48 586.42 530.96 586.59 C531.45 586.76 531.93 586.93 532.41 587.09 C532.90 587.25 533.38 587.41 533.87 587.57 C534.35 587.72 534.84 587.87 535.33 588.02 C535.82 588.17 536.31 588.32 536.80 588.46 C537.29 588.60 537.79 588.75 538.28 588.88 C538.77 589.02 539.27 589.16 539.76 589.29 C540.26 589.42 540.76 589.55 541.26 589.68 C541.75 589.81 542.25 589.93 542.75 590.05 C543.25 590.18 543.75 590.30 544.25 590.42 C544.75 590.53 545.26 590.65 545.76 590.77 C546.26 590.88 546.77 590.99 547.27 591.10 C547.77 591.21 548.28 591.32 548.78 591.43 C549.29 591.53 549.79 591.64 550.30 591.74 C550.81 591.85 551.31 591.95 551.82 592.05 C552.33 592.15 552.84 592.25 553.34 592.35 C553.85 592.44 554.36 592.54 554.87 592.64 C555.38 592.73 555.88 592.82 556.39 592.92 C556.90 593.01 557.41 593.10 557.92 593.19 C558.43 593.29 558.94 593.38 559.45 593.47 C559.96 593.56 560.47 593.64 560.98 593.73 C561.48 593.82 561.99 593.91 562.50 594.00 C563.01 594.08 563.52 594.17 564.03 594.26 C564.54 594.34 565.05 594.43 565.56 594.51 C566.07 594.60 566.58 594.68 567.08 594.76 C567.59 594.85 568.10 594.93 568.61 595.01 C569.12 595.09 569.63 595.17 570.14 595.26 C570.65 595.34 571.16 595.42 571.66 595.50 C572.17 595.58 572.68 595.65 573.19 595.73 C573.70 595.81 574.21 595.89 574.72 595.97 C575.23 596.04 575.73 596.12 576.24 596.20 C576.75 596.27 577.26 596.35 577.77 596.42 C578.28 596.50 578.79 596.57 579.29 596.64 C579.80 596.72 580.31 596.79 580.82 596.86 C581.33 596.93 581.84 597.01 582.35 597.08 C582.86 597.15 583.36 597.22 583.87 597.29 C584.38 597.36 584.89 597.43 585.40 597.50 C585.91 597.57 586.41 597.63 586.92 597.70 C587.43 597.77 587.94 597.84 588.45 597.90 C588.96 597.97 589.47 598.04 589.97 598.10 C590.48 598.17 590.99 598.23 591.50 598.30 C592.01 598.36 592.52 598.43 593.03 598.49 C593.53 598.55 594.04 598.61 594.55 598.68 C595.06 598.74 595.57 598.80 596.08 598.86 C596.58 598.92 597.09 598.98 597.60 599.04 C598.11 599.10 598.62 599.16 599.13 599.22 C599.64 599.28 600.14 599.34 600.65 599.40 C601.16 599.46 601.67 599.51 602.18 599.57 C602.69 599.63 603.19 599.68 603.70 599.74 C604.21 599.79 604.72 599.85 605.23 599.90 C605.74 599.96 606.24 600.01 606.75 600.07 C607.26 600.12 607.77 600.17 608.28 600.23 C608.79 600.28 609.30 600.33 609.80 600.38 C610.31 600.44 610.82 600.49 611.33 600.54 C611.84 600.59 612.35 600.64 612.85 600.69 C613.36 600.74 613.87 600.79 614.38 600.84 C614.89 600.89 615.40 600.93 615.91 600.98 C616.41 601.03 616.92 601.08 617.43 601.13 C617.94 601.17 618.45 601.22 618.96 601.26 C619.47 601.31 619.97 601.36 620.48 601.40 C620.99 601.45 621.50 601.49 622.01 601.54 C622.52 601.58 623.03 601.62 623.53 601.67 C624.04 601.71 624.55 601.75 625.06 601.79 C625.57 601.84 626.08 601.88 626.59 601.92 C627.10 601.96 627.60 602.00 628.11 602.04 C628.62 602.08 629.13 602.12 629.64 602.16 C630.15 602.20 630.66 602.24 631.17 602.28 C631.67 602.32 632.18 602.36 632.69 602.40 C633.20 602.43 633.71 602.47 634.22 602.51 C634.73 602.55 635.24 602.58 635.75 602.62 C636.26 602.66 636.76 602.69 637.27 602.73 C637.78 602.76 638.29 602.80 638.80 602.83 C639.31 602.87 639.82 602.90 640.33 602.93 C640.84 602.97 641.35 603.00 641.86 603.04 C642.36 603.07 642.87 603.10 643.38 603.13 C643.89 603.17 644.40 603.20 644.91 603.23 C645.42 603.26 645.93 603.29 646.44 603.32 C646.95 603.35 647.46 603.38 647.97 603.41 C648.48 603.44 648.99 603.47 649.50 603.50 C650.00 603.53 650.51 603.56 651.02 603.59 C651.53 603.62 652.04 603.64 652.55 603.67 C653.06 603.70 653.57 603.73 654.08 603.75 C654.59 603.78 655.10 603.81 655.61 603.83 C656.12 603.86 656.63 603.89 657.14 603.91 C657.65 603.94 658.16 603.96 658.67 603.99 C659.18 604.01 659.69 604.04 660.20 604.06 C660.71 604.08 661.22 604.11 661.73 604.13 C662.24 604.16 662.75 604.18 663.26 604.20 C663.77 604.22 664.28 604.25 664.79 604.27 C665.30 604.29 665.81 604.31 666.32 604.33 C666.83 604.36 667.34 604.38 667.85 604.40 C668.36 604.42 668.87 604.44 669.39 604.46 C669.90 604.48 670.41 604.50 670.92 604.52 C671.43 604.54 671.94 604.56 672.45 604.58 C672.96 604.60 673.47 604.62 673.98 604.63 C674.49 604.65 675.00 604.67 675.51 604.69 C676.03 604.71 676.54 604.72 677.05 604.74 C677.56 604.76 678.07 604.77 678.58 604.79 C679.09 604.81 679.60 604.82 680.11 604.84 C680.63 604.86 681.14 604.87 681.65 604.89 C682.16 604.90 682.67 604.92 683.18 604.93 C683.69 604.95 684.21 604.96 684.72 604.98 C685.23 604.99 685.74 605.01 686.25 605.02 C686.76 605.03 687.28 605.05 687.79 605.06 C688.30 605.07 688.81 605.09 689.32 605.10 C689.83 605.11 690.35 605.13 690.86 605.14 C691.37 605.15 691.88 605.16 692.40 605.18 C692.91 605.19 693.42 605.20 693.93 605.21 C694.44 605.22 694.96 605.23 695.47 605.24 C695.98 605.25 696.49 605.27 697.01 605.28 C697.52 605.29 698.03 605.30 698.55 605.31 C699.06 605.32 699.57 605.33 700.08 605.34 C700.60 605.35 701.11 605.36 701.62 605.36 C702.14 605.37 702.65 605.38 703.16 605.39 C703.67 605.40 704.19 605.41 704.70 605.42 C705.21 605.43 705.73 605.43 706.24 605.44 C706.75 605.45 707.27 605.46 707.78 605.46 C708.30 605.47 708.81 605.48 709.32 605.49 C709.84 605.49 710.35 605.50 710.86 605.51 C711.38 605.51 711.89 605.52 712.41 605.53 C712.92 605.53 713.43 605.54 713.95 605.55 C714.46 605.55 714.98 605.56 715.49 605.56 C716.00 605.57 716.52 605.57 717.03 605.58 C717.55 605.59 718.06 605.59 718.58 605.60 C719.09 605.60 719.61 605.61 720.12 605.61 C720.64 605.61 721.15 605.62 721.67 605.62 C722.18 605.63 722.70 605.63 723.21 605.64 C723.73 605.64 724.24 605.64 724.76 605.65 C725.27 605.65 725.79 605.66 726.30 605.66 C726.82 605.66 727.33 605.67 727.85 605.67 C728.37 605.67 728.88 605.68 729.40 605.68 C729.91 605.68 730.43 605.68 730.95 605.69 C731.46 605.69 731.98 605.69 732.49 605.69 C733.01 605.70 733.53 605.70 734.04 605.70 C734.56 605.70 735.08 605.71 735.59 605.71 C736.11 605.71 736.62 605.71 737.14 605.71 C737.66 605.72 738.43 605.72 738.69 605.72" stroke-dasharray="4.3 4.4"/>
<path d="M457.19 453.42 C457.27 453.64 457.49 454.31 457.64 454.76 C457.79 455.21 457.93 455.66 458.07 456.11 C458.22 456.56 458.36 457.01 458.49 457.46 C458.63 457.92 458.77 458.37 458.90 458.82 C459.04 459.27 459.17 459.73 459.30 460.18 C459.43 460.64 459.56 461.09 459.69 461.55 C459.81 462.00 459.94 462.46 460.06 462.92 C460.18 463.37 460.30 463.83 460.42 464.29 C460.54 464.75 460.66 465.21 460.78 465.67 C460.89 466.13 461.01 466.59 461.12 467.05 C461.23 467.51 461.35 467.97 461.46 468.43 C461.57 468.89 461.68 469.35 461.78 469.81 C461.89 470.28 462.00 470.74 462.10 471.20 C462.21 471.67 462.31 472.13 462.42 472.59 C462.52 473.06 462.62 473.52 462.72 473.99 C462.82 474.45 462.92 474.92 463.02 475.38 C463.12 475.85 463.22 476.32 463.31 476.78 C463.41 477.25 463.50 477.72 463.60 478.18 C463.69 478.65 463.79 479.12 463.88 479.58 C463.98 480.05 464.07 480.52 464.16 480.99 C464.25 481.46 464.34 481.93 464.43 482.40 C464.53 482.86 464.62 483.33 464.71 483.80 C464.80 484.27 464.89 484.74 464.97 485.21 C465.06 485.68 465.15 486.15 465.24 486.62 C465.33 487.09 465.42 487.56 465.50 488.03 C465.59 488.50 465.68 488.97 465.77 489.45 C465.86 489.92 465.94 490.39 466.03 490.86 C466.12 491.33 466.20 491.80 466.29 492.27 C466.38 492.74 466.47 493.21 466.55 493.69 C466.64 494.16 466.73 494.63 466.82 495.10 C466.91 495.57 466.99 496.04 467.08 496.51 C467.17 496.99 467.26 497.46 467.35 497.93 C467.44 498.40 467.53 498.87 467.62 499.34 C467.71 499.81 467.80 500.29 467.89 500.76 C467.98 501.23 468.07 501.70 468.16 502.17 C468.25 502.64 468.35 503.11 468.44 503.58 C468.53 504.05 468.63 504.52 468.72 505.00 C468.82 505.47 468.91 505.94 469.01 506.41 C469.11 506.88 469.21 507.35 469.30 507.82 C469.40 508.29 469.50 508.76 469.60 509.23 C469.70 509.70 469.81 510.16 469.91 510.63 C470.01 511.10 470.12 511.57 470.22 512.04 C470.33 512.51 470.43 512.98 470.54 513.44 C470.65 513.91 470.76 514.38 470.87 514.85 C470.98 515.31 471.09 515.78 471.20 516.25 C471.32 516.71 471.43 517.18 471.55 517.65 C471.66 518.11 471.78 518.58 471.90 519.04 C472.02 519.51 472.14 519.97 472.27 520.44 C472.39 520.90 472.51 521.37 472.64 521.83 C472.77 522.29 472.90 522.76 473.03 523.22 C473.16 523.68 473.29 524.14 473.42 524.60 C473.56 525.07 473.69 525.53 473.83 525.99 C473.97 526.45 474.11 526.91 474.25 527.37 C474.40 527.83 474.54 528.29 474.69 528.74 C474.84 529.20 474.99 529.66 475.14 530.12 C475.29 530.57 475.44 531.03 475.60 531.49 C475.76 531.94 475.91 532.40 476.08 532.85 C476.24 533.31 476.40 533.76 476.57 534.21 C476.73 534.67 476.90 535.12 477.07 535.57 C477.25 536.02 477.42 536.47 477.60 536.92 C477.77 537.37 477.95 537.82 478.14 538.26 C478.32 538.71 478.50 539.16 478.69 539.60 C478.88 540.04 479.07 540.49 479.26 540.93 C479.45 541.37 479.65 541.81 479.85 542.25 C480.05 542.69 480.25 543.13 480.45 543.56 C480.66 544.00 480.87 544.43 481.08 544.86 C481.29 545.29 481.50 545.72 481.72 546.15 C481.93 546.58 482.15 547.01 482.38 547.43 C482.60 547.86 482.83 548.28 483.06 548.70 C483.28 549.12 483.52 549.54 483.75 549.95 C483.99 550.37 484.23 550.78 484.47 551.20 C484.71 551.61 484.96 552.02 485.20 552.42 C485.45 552.83 485.70 553.23 485.96 553.64 C486.22 554.04 486.47 554.44 486.74 554.83 C487.00 555.23 487.26 555.62 487.53 556.02 C487.80 556.41 488.07 556.79 488.35 557.18 C488.63 557.57 488.91 557.95 489.19 558.33 C489.47 558.71 489.76 559.08 490.05 559.46 C490.34 559.83 490.64 560.20 490.93 560.57 C491.23 560.93 491.53 561.30 491.84 561.66 C492.14 562.02 492.45 562.38 492.76 562.73 C493.07 563.09 493.39 563.44 493.70 563.79 C494.02 564.13 494.34 564.48 494.67 564.82 C494.99 565.16 495.32 565.50 495.65 565.83 C495.98 566.17 496.31 566.50 496.65 566.83 C496.99 567.15 497.33 567.48 497.67 567.80 C498.01 568.12 498.36 568.44 498.70 568.75 C499.05 569.07 499.40 569.38 499.76 569.68 C500.11 569.99 500.47 570.29 500.83 570.59 C501.19 570.89 501.55 571.19 501.91 571.48 C502.28 571.77 502.65 572.06 503.02 572.35 C503.39 572.63 503.76 572.91 504.13 573.19 C504.51 573.47 504.89 573.74 505.26 574.01 C505.64 574.28 506.03 574.55 506.41 574.81 C506.80 575.07 507.18 575.33 507.57 575.59 C507.96 575.84 508.35 576.10 508.75 576.34 C509.14 576.59 509.54 576.84 509.93 577.08 C510.33 577.32 510.73 577.56 511.14 577.80 C511.54 578.03 511.94 578.26 512.35 578.49 C512.76 578.72 513.16 578.95 513.57 579.17 C513.99 579.39 514.40 579.61 514.81 579.83 C515.23 580.04 515.64 580.26 516.06 580.47 C516.48 580.68 516.90 580.88 517.32 581.09 C517.75 581.29 518.17 581.49 518.60 581.69 C519.02 581.89 519.45 582.08 519.88 582.28 C520.31 582.47 520.74 582.66 521.17 582.85 C521.60 583.03 522.04 583.22 522.48 583.40 C522.91 583.58 523.35 583.76 523.79 583.94 C524.23 584.11 524.67 584.29 525.11 584.46 C525.55 584.63 526.00 584.80 526.44 584.96 C526.89 585.13 527.33 585.29 527.78 585.45 C528.23 585.61 528.68 585.77 529.13 585.93 C529.58 586.09 530.03 586.24 530.48 586.39 C530.94 586.54 531.39 586.69 531.85 586.84 C532.30 586.99 532.76 587.13 533.22 587.27 C533.67 587.42 534.13 587.56 534.59 587.70 C535.05 587.84 535.52 587.97 535.98 588.11 C536.44 588.24 536.90 588.37 537.37 588.51 C537.83 588.64 538.30 588.76 538.76 588.89 C539.23 589.02 539.70 589.14 540.16 589.27 C540.63 589.39 541.10 589.51 541.57 589.63 C542.04 589.75 542.51 589.87 542.98 589.99 C543.45 590.10 543.92 590.22 544.40 590.33 C544.87 590.44 545.34 590.55 545.81 590.66 C546.29 590.77 546.76 590.88 547.24 590.99 C547.71 591.10 548.19 591.20 548.66 591.31 C549.14 591.41 549.62 591.51 550.09 591.61 C550.57 591.72 551.05 591.82 551.52 591.91 C552.00 592.01 552.48 592.11 552.96 592.21 C553.44 592.30 553.92 592.40 554.39 592.49 C554.87 592.59 555.35 592.68 555.83 592.77 C556.31 592.86 556.79 592.96 557.27 593.05 C557.75 593.14 558.23 593.22 558.71 593.31 C559.19 593.40 559.67 593.49 560.15 593.57 C560.63 593.66 561.11 593.75 561.59 593.83 C562.07 593.91 562.55 594.00 563.03 594.08 C563.51 594.17 563.99 594.25 564.47 594.33 C564.95 594.41 565.43 594.49 565.91 594.57 C566.39 594.65 566.87 594.73 567.35 594.81 C567.83 594.89 568.31 594.97 568.79 595.05 C569.26 595.13 569.74 595.21 570.22 595.28 C570.70 595.36 571.18 595.44 571.66 595.51 C572.14 595.59 572.61 595.66 573.09 595.74 C573.57 595.81 574.05 595.89 574.52 595.96 C575.00 596.03 575.48 596.11 575.96 596.18 C576.43 596.25 576.91 596.32 577.39 596.39 C577.87 596.47 578.34 596.54 578.82 596.61 C579.30 596.68 579.77 596.75 580.25 596.82 C580.73 596.88 581.20 596.95 581.68 597.02 C582.16 597.09 582.63 597.16 583.11 597.22 C583.58 597.29 584.06 597.36 584.54 597.42 C585.01 597.49 585.49 597.55 585.96 597.62 C586.44 597.68 586.91 597.75 587.39 597.81 C587.87 597.87 588.34 597.94 588.82 598.00 C589.29 598.06 589.77 598.12 590.24 598.19 C590.72 598.25 591.19 598.31 591.67 598.37 C592.14 598.43 592.61 598.49 593.09 598.55 C593.56 598.61 594.04 598.67 594.51 598.72 C594.99 598.78 595.46 598.84 595.94 598.90 C596.41 598.96 596.88 599.01 597.36 599.07 C597.83 599.12 598.31 599.18 598.78 599.24 C599.25 599.29 599.73 599.35 600.20 599.40 C600.67 599.45 601.15 599.51 601.62 599.56 C602.09 599.62 602.57 599.67 603.04 599.72 C603.51 599.77 603.99 599.83 604.46 599.88 C604.93 599.93 605.41 599.98 605.88 600.03 C606.35 600.08 606.83 600.13 607.30 600.18 C607.77 600.23 608.24 600.28 608.72 600.33 C609.19 600.38 609.66 600.42 610.14 600.47 C610.61 600.52 611.08 600.57 611.55 600.61 C612.03 600.66 612.50 600.71 612.97 600.75 C613.44 600.80 613.92 600.84 614.39 600.89 C614.86 600.93 615.33 600.98 615.81 601.02 C616.28 601.07 616.75 601.11 617.22 601.15 C617.69 601.20 618.17 601.24 618.64 601.28 C619.11 601.33 619.58 601.37 620.05 601.41 C620.53 601.45 621.00 601.49 621.47 601.53 C621.94 601.57 622.41 601.61 622.89 601.65 C623.36 601.69 623.83 601.73 624.30 601.77 C624.77 601.81 625.25 601.85 625.72 601.89 C626.19 601.93 626.66 601.97 627.13 602.00 C627.60 602.04 628.08 602.08 628.55 602.11 C629.02 602.15 629.49 602.19 629.96 602.22 C630.43 602.26 630.91 602.29 631.38 602.33 C631.85 602.36 632.32 602.40 632.79 602.43 C633.27 602.47 633.74 602.50 634.21 602.54 C634.68 602.57 635.15 602.60 635.62 602.64 C636.10 602.67 636.57 602.70 637.04 602.73 C637.51 602.77 637.98 602.80 638.45 602.83 C638.93 602.86 639.40 602.89 639.87 602.92 C640.34 602.95 640.81 602.98 641.28 603.01 C641.76 603.04 642.23 603.07 642.70 603.10 C643.17 603.13 643.64 603.16 644.12 603.19 C644.59 603.22 645.06 603.25 645.53 603.27 C646.00 603.30 646.48 603.33 646.95 603.36 C647.42 603.38 647.89 603.41 648.36 603.44 C648.84 603.46 649.31 603.49 649.78 603.52 C650.25 603.54 650.72 603.57 651.20 603.59 C651.67 603.62 652.14 603.64 652.61 603.67 C653.08 603.69 653.56 603.72 654.03 603.74 C654.50 603.77 654.97 603.79 655.45 603.81 C655.92 603.84 656.39 603.86 656.86 603.88 C657.34 603.91 657.81 603.93 658.28 603.95 C658.76 603.97 659.23 603.99 659.70 604.02 C660.17 604.04 660.65 604.06 661.12 604.08 C661.59 604.10 662.07 604.12 662.54 604.14 C663.01 604.16 663.48 604.18 663.96 604.20 C664.43 604.22 664.90 604.24 665.38 604.26 C665.85 604.28 666.32 604.30 666.80 604.32 C667.27 604.34 667.75 604.36 668.22 604.38 C668.69 604.40 669.17 604.41 669.64 604.43 C670.11 604.45 670.59 604.47 671.06 604.48 C671.54 604.50 672.01 604.52 672.49 604.54 C672.96 604.55 673.43 604.57 673.91 604.59 C674.38 604.60 674.86 604.62 675.33 604.63 C675.81 604.65 676.28 604.67 676.76 604.68 C677.23 604.70 677.71 604.71 678.18 604.73 C678.66 604.74 679.13 604.76 679.61 604.77 C680.08 604.79 680.56 604.80 681.03 604.82 C681.51 604.83 681.98 604.84 682.46 604.86 C682.93 604.87 683.41 604.88 683.89 604.90 C684.36 604.91 684.84 604.92 685.31 604.94 C685.79 604.95 686.27 604.96 686.74 604.98 C687.22 604.99 687.70 605.00 688.17 605.01 C688.65 605.02 689.13 605.04 689.60 605.05 C690.08 605.06 690.56 605.07 691.04 605.08 C691.51 605.09 691.99 605.10 692.47 605.12 C692.94 605.13 693.42 605.14 693.90 605.15 C694.38 605.16 694.86 605.17 695.33 605.18 C695.81 605.19 696.29 605.20 696.77 605.21 C697.25 605.22 697.73 605.23 698.20 605.24 C698.68 605.25 699.16 605.26 699.64 605.27 C700.12 605.28 700.60 605.29 701.08 605.30 C701.56 605.30 702.04 605.31 702.52 605.32 C703.00 605.33 703.48 605.34 703.96 605.35 C704.44 605.36 704.92 605.36 705.40 605.37 C705.88 605.38 706.36 605.39 706.84 605.40 C707.32 605.41 707.80 605.41 708.28 605.42 C708.76 605.43 709.24 605.44 709.72 605.44 C710.21 605.45 710.69 605.46 711.17 605.46 C711.65 605.47 712.13 605.48 712.62 605.49 C713.10 605.49 713.58 605.50 714.06 605.51 C714.54 605.51 715.03 605.52 715.51 605.53 C715.99 605.53 716.48 605.54 716.96 605.55 C717.44 605.55 717.93 605.56 718.41 605.56 C718.89 605.57 719.38 605.58 719.86 605.58 C720.35 605.59 720.83 605.59 721.31 605.60 C721.80 605.61 722.28 605.61 722.77 605.62 C723.25 605.62 723.74 605.63 724.22 605.63 C724.71 605.64 725.20 605.65 725.68 605.65 C726.17 605.66 726.65 605.66 727.14 605.67 C727.63 605.67 728.11 605.68 728.60 605.68 C729.09 605.69 729.57 605.69 730.06 605.70 C730.55 605.70 731.03 605.71 731.52 605.71 C732.01 605.72 732.50 605.72 732.99 605.73 C733.47 605.73 733.96 605.74 734.45 605.74 C734.94 605.75 735.43 605.75 735.92 605.75 C736.41 605.76 736.90 605.76 737.39 605.77 C737.87 605.77 738.61 605.78 738.85 605.78"/>
</g>
<path d="M458.00 452.65L458.00 458.75M455.36 454.18L460.64 457.22M460.64 454.18L455.36 457.22" stroke="#00ff00" stroke-width="1.70" fill="none"/><circle cx="458.00" cy="455.70" r="1.55" fill="#00ff00"/>
<path d="M469.96 480.05L469.96 486.15M467.32 481.58L472.60 484.62M472.60 481.58L467.32 484.62" stroke="#00ff00" stroke-width="1.70" fill="none"/><circle cx="469.96" cy="483.10" r="1.55" fill="#00ff00"/>
<path d="M481.92 501.65L481.92 507.75M479.28 503.18L484.56 506.22M484.56 503.18L479.28 506.22" stroke="#00ff00" stroke-width="1.70" fill="none"/><circle cx="481.92" cy="504.70" r="1.55" fill="#00ff00"/>
<path d="M493.88 516.75L493.88 522.85M491.24 518.27L496.52 521.32M496.52 518.27L491.24 521.32" stroke="#00ff00" stroke-width="1.70" fill="none"/><circle cx="493.88" cy="519.80" r="1.55" fill="#00ff00"/>
<path d="M505.84 562.85L505.84 568.95M503.20 564.38L508.48 567.42M508.48 564.38L503.20 567.42" stroke="#00ff00" stroke-width="1.70" fill="none"/><circle cx="505.84" cy="565.90" r="1.55" fill="#00ff00"/>
<path d="M517.80 561.65L517.80 567.75M515.16 563.18L520.44 566.23M520.44 563.18L515.16 566.23" stroke="#00ff00" stroke-width="1.70" fill="none"/><circle cx="517.80" cy="564.70" r="1.55" fill="#00ff00"/>
<path d="M529.76 580.75L529.76 586.85M527.12 582.27L532.40 585.32M532.40 582.27L527.12 585.32" stroke="#00ff00" stroke-width="1.70" fill="none"/><circle cx="529.76" cy="583.80" r="1.55" fill="#00ff00"/>
<path d="M541.72 575.75L541.72 581.85M539.08 577.27L544.36 580.32M544.36 577.27L539.08 580.32" stroke="#00ff00" stroke-width="1.70" fill="none"/><circle cx="541.72" cy="578.80" r="1.55" fill="#00ff00"/>
<path d="M553.68 588.75L553.68 594.85M551.04 590.27L556.32 593.32M556.32 590.27L551.04 593.32" stroke="#00ff00" stroke-width="1.70" fill="none"/><circle cx="553.68" cy="591.80" r="1.55" fill="#00ff00"/>
<path d="M565.64 586.95L565.64 593.05M563.00 588.48L568.28 591.52M568.28 588.48L563.00 591.52" stroke="#00ff00" stroke-width="1.70" fill="none"/><circle cx="565.64" cy="590.00" r="1.55" fill="#00ff00"/>
<path d="M577.60 591.55L577.60 597.65M574.96 593.08L580.24 596.12M580.24 593.08L574.96 596.12" stroke="#00ff00" stroke-width="1.70" fill="none"/><circle cx="577.60" cy="594.60" r="1.55" fill="#00ff00"/>
<path d="M589.56 593.65L589.56 599.75M586.92 595.18L592.20 598.23M592.20 595.18L586.92 598.23" stroke="#00ff00" stroke-width="1.70" fill="none"/><circle cx="589.56" cy="596.70" r="1.55" fill="#00ff00"/>
<path d="M601.52 594.95L601.52 601.05M598.88 596.48L604.16 599.52M604.16 596.48L598.88 599.52" stroke="#00ff00" stroke-width="1.70" fill="none"/><circle cx="601.52" cy="598.00" r="1.55" fill="#00ff00"/>
<path d="M613.48 592.15L613.48 598.25M610.84 593.68L616.12 596.73M616.12 593.68L610.84 596.73" stroke="#00ff00" stroke-width="1.70" fill="none"/><circle cx="613.48" cy="595.20" r="1.55" fill="#00ff00"/>
<path d="M625.44 596.55L625.44 602.65M622.80 598.08L628.08 601.12M628.08 598.08L622.80 601.12" stroke="#00ff00" stroke-width="1.70" fill="none"/><circle cx="625.44" cy="599.60" r="1.55" fill="#00ff00"/>
<path d="M637.40 597.05L637.40 603.15M634.76 598.58L640.04 601.62M640.04 598.58L634.76 601.62" stroke="#00ff00" stroke-width="1.70" fill="none"/><circle cx="637.40" cy="600.10" r="1.55" fill="#00ff00"/>
<path d="M649.36 598.45L649.36 604.55M646.72 599.98L652.00 603.02M652.00 599.98L646.72 603.02" stroke="#00ff00" stroke-width="1.70" fill="none"/><circle cx="649.36" cy="601.50" r="1.55" fill="#00ff00"/>
<path d="M661.32 598.75L661.32 604.85M658.68 600.27L663.96 603.32M663.96 600.27L658.68 603.32" stroke="#00ff00" stroke-width="1.70" fill="none"/><circle cx="661.32" cy="601.80" r="1.55" fill="#00ff00"/>
<path d="M673.28 598.65L673.28 604.75M670.64 600.18L675.92 603.23M675.92 600.18L670.64 603.23" stroke="#00ff00" stroke-width="1.70" fill="none"/><circle cx="673.28" cy="601.70" r="1.55" fill="#00ff00"/>
<path d="M685.24 598.45L685.24 604.55M682.60 599.98L687.88 603.02M687.88 599.98L682.60 603.02" stroke="#00ff00" stroke-width="1.70" fill="none"/><circle cx="685.24" cy="601.50" r="1.55" fill="#00ff00"/>
<path d="M697.20 598.75L697.20 604.85M694.56 600.27L699.84 603.32M699.84 600.27L694.56 603.32" stroke="#00ff00" stroke-width="1.70" fill="none"/><circle cx="697.20" cy="601.80" r="1.55" fill="#00ff00"/>
<path d="M709.16 598.05L709.16 604.15M706.52 599.58L711.80 602.62M711.80 599.58L706.52 602.62" stroke="#00ff00" stroke-width="1.70" fill="none"/><circle cx="709.16" cy="601.10" r="1.55" fill="#00ff00"/>
<path d="M721.12 596.15L721.12 602.25M718.48 597.68L723.76 600.73M723.76 597.68L718.48 600.73" stroke="#00ff00" stroke-width="1.70" fill="none"/><circle cx="721.12" cy="599.20" r="1.55" fill="#00ff00"/>
<path d="M733.08 597.65L733.08 603.75M730.44 599.18L735.72 602.23M735.72 599.18L730.44 602.23" stroke="#00ff00" stroke-width="1.70" fill="none"/><circle cx="733.08" cy="600.70" r="1.55" fill="#00ff00"/>
<text x="457.30" y="625.90" font-size="14.40" text-anchor="middle" textLength="21.90" lengthAdjust="spacingAndGlyphs">200</text>
<text x="504.18" y="625.90" font-size="14.40" text-anchor="middle" textLength="21.90" lengthAdjust="spacingAndGlyphs">400</text>
<text x="551.07" y="625.90" font-size="14.40" text-anchor="middle" textLength="21.90" lengthAdjust="spacingAndGlyphs">600</text>
<text x="597.95" y="625.90" font-size="14.40" text-anchor="middle" textLength="21.90" lengthAdjust="spacingAndGlyphs">800</text>
<text x="644.83" y="625.90" font-size="14.40" text-anchor="middle" textLength="29.20" lengthAdjust="spacingAndGlyphs">1000</text>
<text x="691.72" y="625.90" font-size="14.40" text-anchor="middle" textLength="29.20" lengthAdjust="spacingAndGlyphs">1200</text>
<text x="738.60" y="625.90" font-size="14.40" text-anchor="middle" textLength="29.20" lengthAdjust="spacingAndGlyphs">1400</text>
<text x="451.10" y="615.55" font-size="14.40" text-anchor="end" textLength="6.60" lengthAdjust="spacingAndGlyphs">0</text>
<text x="451.10" y="568.82" font-size="14.40" text-anchor="end" textLength="18.40" lengthAdjust="spacingAndGlyphs">0.1</text>
<text x="451.10" y="522.09" font-size="14.40" text-anchor="end" textLength="18.40" lengthAdjust="spacingAndGlyphs">0.2</text>
<text x="451.10" y="475.36" font-size="14.40" text-anchor="end" textLength="18.40" lengthAdjust="spacingAndGlyphs">0.3</text>
<text x="451.10" y="428.63" font-size="14.40" text-anchor="end" textLength="18.40" lengthAdjust="spacingAndGlyphs">0.4</text>
<text x="451.10" y="381.90" font-size="14.40" text-anchor="end" textLength="18.40" lengthAdjust="spacingAndGlyphs">0.5</text>
<text x="597.95" y="648.10" font-size="13.90" text-anchor="middle" textLength="104.00" lengthAdjust="spacingAndGlyphs">Frequency in Hz</text>
<text transform="translate(410.10 493.53) rotate(-90)" font-size="13.90" text-anchor="middle" textLength="126.2" lengthAdjust="spacingAndGlyphs">Average Dissipation</text>
<text x="529.65" y="682.00" font-size="17.40" text-anchor="start" textLength="22.90" lengthAdjust="spacingAndGlyphs">(d)</text>
<text x="560.75" y="682.00" font-size="17.40" text-anchor="start" textLength="56.60" lengthAdjust="spacingAndGlyphs">DC009</text>
<rect x="576.90" y="382.35" width="155.35" height="59.85" fill="#fff" stroke="#000" stroke-width="1.58"/>
<path d="M593.40 391.15L593.40 397.25M590.76 392.68L596.04 395.73M596.04 392.68L590.76 395.73" stroke="#00ff00" stroke-width="1.70" fill="none"/><circle cx="593.40" cy="394.20" r="1.55" fill="#00ff00"/>
<path d="M581.10 411.80H605.40" stroke="#00ff00" stroke-width="0.80" stroke-dasharray="4.3 4.4" fill="none"/>
<path d="M581.10 429.50H605.40" stroke="#00ff00" stroke-width="0.80" fill="none"/>
<text x="666.70" y="398.30" font-size="13.90" text-anchor="middle" textLength="73.30" lengthAdjust="spacingAndGlyphs">Experiment</text>
<text x="666.70" y="416.40" font-size="13.90" text-anchor="middle" textLength="99.80" lengthAdjust="spacingAndGlyphs">Melling’s model</text>
<text x="666.80" y="433.90" font-size="13.90" text-anchor="middle" textLength="115.60" lengthAdjust="spacingAndGlyphs">Asymptotic model</text>
</g>
</svg></body></html>
